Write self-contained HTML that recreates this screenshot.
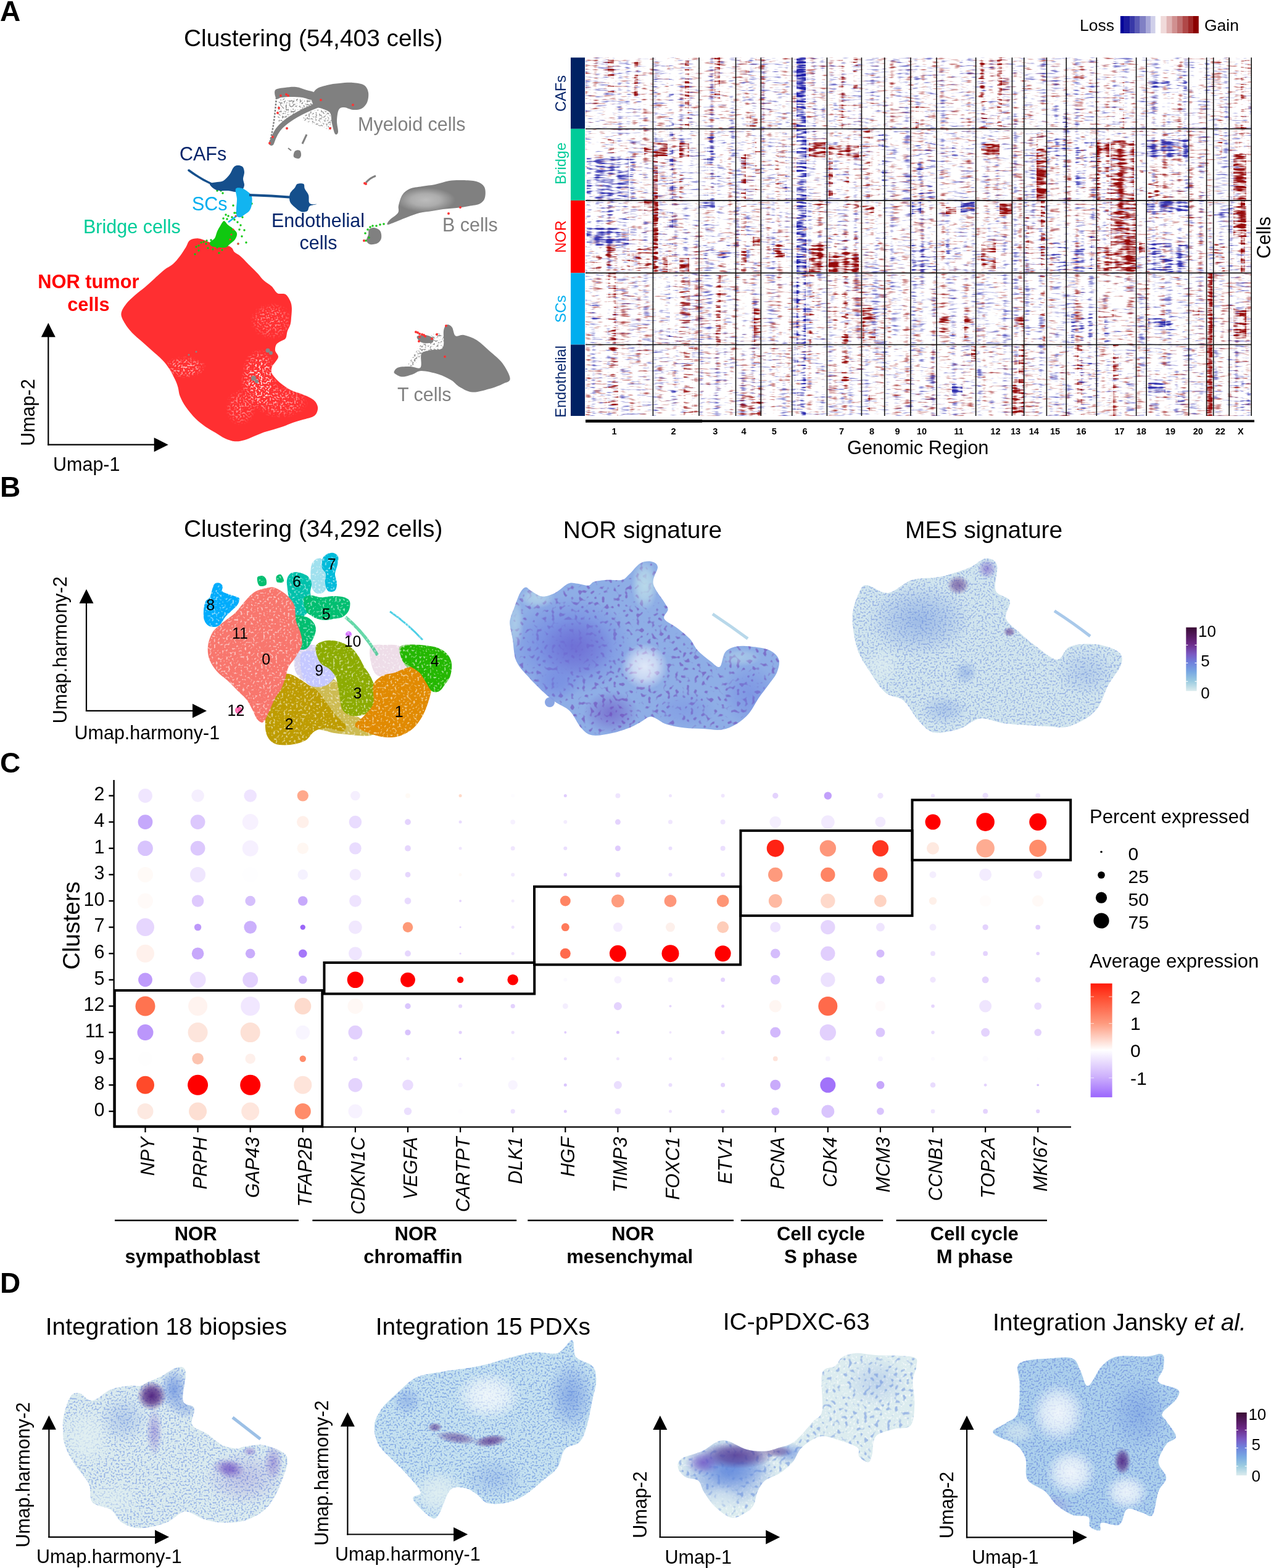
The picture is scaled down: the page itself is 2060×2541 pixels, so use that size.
<!DOCTYPE html><html><head><meta charset="utf-8"><title>Figure</title><style>html,body{margin:0;padding:0;background:#fff;}svg{display:block;}text{font-family:"Liberation Sans",Arial,Helvetica,sans-serif;}</style></head><body>
<svg width="2060" height="2541" viewBox="0 0 2060 2541">
<rect width="2060" height="2541" fill="#fff"/>
<defs>
<filter id="hrs" x="0" y="0" width="1" height="1" color-interpolation-filters="sRGB"><feTurbulence type="fractalNoise" baseFrequency="0.05 0.33" numOctaves="2" seed="3" result="n1"/><feColorMatrix in="n1" type="matrix" values="1 0 0 0 0  0 0 0 0 0  0 0 0 0 0  0 0 0 0 1" result="m1"/><feTurbulence type="fractalNoise" baseFrequency="0.12 0.005" numOctaves="1" seed="21" result="n2"/><feColorMatrix in="n2" type="matrix" values="1 0 0 0 0  0 0 0 0 0  0 0 0 0 0  0 0 0 0 1" result="m2"/><feComposite in="m1" in2="m2" operator="arithmetic" k1="0" k2="1" k3="0.6" k4="-0.300" result="s"/><feColorMatrix in="s" type="matrix" values="0 0 0 0 0  0 0 0 0 0  0 0 0 0 0  3.0 0 0 0 -1.755" result="a"/><feComposite in="SourceGraphic" in2="a" operator="in"/></filter>
<filter id="hbs" x="0" y="0" width="1" height="1" color-interpolation-filters="sRGB"><feTurbulence type="fractalNoise" baseFrequency="0.05 0.33" numOctaves="2" seed="11" result="n1"/><feColorMatrix in="n1" type="matrix" values="1 0 0 0 0  0 0 0 0 0  0 0 0 0 0  0 0 0 0 1" result="m1"/><feTurbulence type="fractalNoise" baseFrequency="0.12 0.005" numOctaves="1" seed="29" result="n2"/><feColorMatrix in="n2" type="matrix" values="1 0 0 0 0  0 0 0 0 0  0 0 0 0 0  0 0 0 0 1" result="m2"/><feComposite in="m1" in2="m2" operator="arithmetic" k1="0" k2="1" k3="0.6" k4="-0.300" result="s"/><feColorMatrix in="s" type="matrix" values="0 0 0 0 0  0 0 0 0 0  0 0 0 0 0  3.0 0 0 0 -1.755" result="a"/><feComposite in="SourceGraphic" in2="a" operator="in"/></filter>
<filter id="hrm" x="0" y="0" width="1" height="1" color-interpolation-filters="sRGB"><feTurbulence type="fractalNoise" baseFrequency="0.05 0.33" numOctaves="2" seed="3" result="n1"/><feColorMatrix in="n1" type="matrix" values="1 0 0 0 0  0 0 0 0 0  0 0 0 0 0  0 0 0 0 1" result="m1"/><feTurbulence type="fractalNoise" baseFrequency="0.12 0.005" numOctaves="1" seed="21" result="n2"/><feColorMatrix in="n2" type="matrix" values="1 0 0 0 0  0 0 0 0 0  0 0 0 0 0  0 0 0 0 1" result="m2"/><feComposite in="m1" in2="m2" operator="arithmetic" k1="0" k2="1" k3="0.6" k4="-0.300" result="s"/><feColorMatrix in="s" type="matrix" values="0 0 0 0 0  0 0 0 0 0  0 0 0 0 0  3.5 0 0 0 -1.838" result="a"/><feComposite in="SourceGraphic" in2="a" operator="in"/></filter>
<filter id="hbm" x="0" y="0" width="1" height="1" color-interpolation-filters="sRGB"><feTurbulence type="fractalNoise" baseFrequency="0.05 0.33" numOctaves="2" seed="11" result="n1"/><feColorMatrix in="n1" type="matrix" values="1 0 0 0 0  0 0 0 0 0  0 0 0 0 0  0 0 0 0 1" result="m1"/><feTurbulence type="fractalNoise" baseFrequency="0.12 0.005" numOctaves="1" seed="29" result="n2"/><feColorMatrix in="n2" type="matrix" values="1 0 0 0 0  0 0 0 0 0  0 0 0 0 0  0 0 0 0 1" result="m2"/><feComposite in="m1" in2="m2" operator="arithmetic" k1="0" k2="1" k3="0.6" k4="-0.300" result="s"/><feColorMatrix in="s" type="matrix" values="0 0 0 0 0  0 0 0 0 0  0 0 0 0 0  3.5 0 0 0 -1.838" result="a"/><feComposite in="SourceGraphic" in2="a" operator="in"/></filter>
<filter id="hrd" x="0" y="0" width="1" height="1" color-interpolation-filters="sRGB"><feTurbulence type="fractalNoise" baseFrequency="0.05 0.33" numOctaves="2" seed="3" result="n1"/><feColorMatrix in="n1" type="matrix" values="1 0 0 0 0  0 0 0 0 0  0 0 0 0 0  0 0 0 0 1" result="m1"/><feTurbulence type="fractalNoise" baseFrequency="0.12 0.005" numOctaves="1" seed="21" result="n2"/><feColorMatrix in="n2" type="matrix" values="1 0 0 0 0  0 0 0 0 0  0 0 0 0 0  0 0 0 0 1" result="m2"/><feComposite in="m1" in2="m2" operator="arithmetic" k1="0" k2="1" k3="0.6" k4="-0.300" result="s"/><feColorMatrix in="s" type="matrix" values="0 0 0 0 0  0 0 0 0 0  0 0 0 0 0  3.5 0 0 0 -1.575" result="a"/><feComposite in="SourceGraphic" in2="a" operator="in"/></filter>
<filter id="hbd" x="0" y="0" width="1" height="1" color-interpolation-filters="sRGB"><feTurbulence type="fractalNoise" baseFrequency="0.05 0.33" numOctaves="2" seed="11" result="n1"/><feColorMatrix in="n1" type="matrix" values="1 0 0 0 0  0 0 0 0 0  0 0 0 0 0  0 0 0 0 1" result="m1"/><feTurbulence type="fractalNoise" baseFrequency="0.12 0.005" numOctaves="1" seed="29" result="n2"/><feColorMatrix in="n2" type="matrix" values="1 0 0 0 0  0 0 0 0 0  0 0 0 0 0  0 0 0 0 1" result="m2"/><feComposite in="m1" in2="m2" operator="arithmetic" k1="0" k2="1" k3="0.6" k4="-0.300" result="s"/><feColorMatrix in="s" type="matrix" values="0 0 0 0 0  0 0 0 0 0  0 0 0 0 0  3.5 0 0 0 -1.575" result="a"/><feComposite in="SourceGraphic" in2="a" operator="in"/></filter>
<filter id="hrv" x="0" y="0" width="1" height="1" color-interpolation-filters="sRGB"><feTurbulence type="fractalNoise" baseFrequency="0.05 0.33" numOctaves="2" seed="3" result="n1"/><feColorMatrix in="n1" type="matrix" values="1 0 0 0 0  0 0 0 0 0  0 0 0 0 0  0 0 0 0 1" result="m1"/><feTurbulence type="fractalNoise" baseFrequency="0.12 0.005" numOctaves="1" seed="21" result="n2"/><feColorMatrix in="n2" type="matrix" values="1 0 0 0 0  0 0 0 0 0  0 0 0 0 0  0 0 0 0 1" result="m2"/><feComposite in="m1" in2="m2" operator="arithmetic" k1="0" k2="1" k3="0.6" k4="-0.300" result="s"/><feColorMatrix in="s" type="matrix" values="0 0 0 0 0  0 0 0 0 0  0 0 0 0 0  3.5 0 0 0 -1.295" result="a"/><feComposite in="SourceGraphic" in2="a" operator="in"/></filter>
<filter id="hbv" x="0" y="0" width="1" height="1" color-interpolation-filters="sRGB"><feTurbulence type="fractalNoise" baseFrequency="0.05 0.33" numOctaves="2" seed="11" result="n1"/><feColorMatrix in="n1" type="matrix" values="1 0 0 0 0  0 0 0 0 0  0 0 0 0 0  0 0 0 0 1" result="m1"/><feTurbulence type="fractalNoise" baseFrequency="0.12 0.005" numOctaves="1" seed="29" result="n2"/><feColorMatrix in="n2" type="matrix" values="1 0 0 0 0  0 0 0 0 0  0 0 0 0 0  0 0 0 0 1" result="m2"/><feComposite in="m1" in2="m2" operator="arithmetic" k1="0" k2="1" k3="0.6" k4="-0.300" result="s"/><feColorMatrix in="s" type="matrix" values="0 0 0 0 0  0 0 0 0 0  0 0 0 0 0  3.5 0 0 0 -1.295" result="a"/><feComposite in="SourceGraphic" in2="a" operator="in"/></filter>
<filter id="spk" x="0" y="0" width="1" height="1" color-interpolation-filters="sRGB"><feTurbulence type="fractalNoise" baseFrequency="0.35 0.35" numOctaves="1" seed="5" result="n"/><feColorMatrix in="n" type="matrix" values="0 0 0 0 0  0 0 0 0 0  0 0 0 0 0  6 0 0 0 -3.000" result="a"/><feComposite in="SourceGraphic" in2="a" operator="in"/></filter>
<filter id="spk2" x="0" y="0" width="1" height="1" color-interpolation-filters="sRGB"><feTurbulence type="fractalNoise" baseFrequency="0.3 0.3" numOctaves="1" seed="9" result="n"/><feColorMatrix in="n" type="matrix" values="0 0 0 0 0  0 0 0 0 0  0 0 0 0 0  6 0 0 0 -3.300" result="a"/><feComposite in="SourceGraphic" in2="a" operator="in"/></filter>
<filter id="spk3" x="0" y="0" width="1" height="1" color-interpolation-filters="sRGB"><feTurbulence type="fractalNoise" baseFrequency="0.16 0.16" numOctaves="1" seed="13" result="n"/><feColorMatrix in="n" type="matrix" values="0 0 0 0 0  0 0 0 0 0  0 0 0 0 0  7 0 0 0 -3.920" result="a"/><feComposite in="SourceGraphic" in2="a" operator="in"/></filter>
</defs>
<radialGradient id="gpur"><stop offset="0" stop-color="#4e1f7e" stop-opacity="0.95"/><stop offset="0.5" stop-color="#4e1f7e" stop-opacity="0.7"/><stop offset="1" stop-color="#4e1f7e" stop-opacity="0"/></radialGradient>
<radialGradient id="gpur2"><stop offset="0" stop-color="#6a48c0" stop-opacity="0.8"/><stop offset="0.5" stop-color="#6a48c0" stop-opacity="0.45"/><stop offset="1" stop-color="#6a48c0" stop-opacity="0"/></radialGradient>
<radialGradient id="gblu"><stop offset="0" stop-color="#5e86dc" stop-opacity="0.8"/><stop offset="0.5" stop-color="#5e86dc" stop-opacity="0.45"/><stop offset="1" stop-color="#5e86dc" stop-opacity="0"/></radialGradient>
<radialGradient id="gwht"><stop offset="0" stop-color="#ffffff" stop-opacity="0.95"/><stop offset="0.5" stop-color="#ffffff" stop-opacity="0.7"/><stop offset="1" stop-color="#ffffff" stop-opacity="0"/></radialGradient>
<radialGradient id="glig"><stop offset="0" stop-color="#e2f0f2" stop-opacity="0.95"/><stop offset="0.5" stop-color="#e2f0f2" stop-opacity="0.7"/><stop offset="1" stop-color="#e2f0f2" stop-opacity="0"/></radialGradient>
<radialGradient id="gnor"><stop offset="0" stop-color="#6c7ee0" stop-opacity="0.85"/><stop offset="0.5" stop-color="#6c7ee0" stop-opacity="0.55"/><stop offset="1" stop-color="#6c7ee0" stop-opacity="0"/></radialGradient>
<radialGradient id="gcy"><stop offset="0" stop-color="#bfe0ea" stop-opacity="0.95"/><stop offset="0.5" stop-color="#bfe0ea" stop-opacity="0.7"/><stop offset="1" stop-color="#bfe0ea" stop-opacity="0"/></radialGradient>
<text x="0" y="33.7" font-size="46" fill="#000" font-weight="bold" text-anchor="start" >A</text>
<text x="298" y="75" font-size="38.9" fill="#000" font-weight="normal" text-anchor="start" >Clustering (54,403 cells)</text>
<path d="M307.6,389.5 C311.0,387.1 316.7,386.0 321.8,386.4 C326.9,386.8 333.0,390.1 338.0,392.0 C343.0,393.9 347.0,397.0 352.0,398.0 C357.0,399.0 364.0,397.3 368.0,398.0 C372.0,398.7 374.0,400.2 376.0,402.0 C378.0,403.8 377.8,406.4 380.0,408.6 C382.2,410.8 386.3,412.4 389.5,415.0 C392.7,417.6 396.1,421.5 399.0,424.4 C401.9,427.3 403.8,429.2 407.0,432.4 C410.2,435.6 414.6,439.8 418.0,443.5 C421.4,447.2 423.9,451.2 427.6,454.6 C431.3,458.0 436.6,460.6 440.3,464.0 C444.0,467.4 446.1,473.1 449.8,475.2 C453.5,477.3 459.1,474.7 462.5,476.8 C465.9,478.9 468.8,484.3 470.5,488.0 C472.2,491.7 472.6,494.5 472.9,499.0 C473.1,503.5 472.4,510.5 472.0,515.0 C471.6,519.5 471.6,522.3 470.5,526.0 C469.4,529.7 466.9,533.3 465.7,537.0 C464.4,540.7 464.8,545.6 463.0,548.3 C461.2,551.0 457.5,551.4 455.0,553.0 C452.5,554.6 449.5,555.5 448.0,558.0 C446.5,560.5 445.5,564.7 446.0,568.0 C446.5,571.3 451.0,574.8 451.0,578.0 C451.0,581.2 447.7,584.3 446.0,587.0 C444.3,589.7 441.9,591.2 441.0,594.0 C440.1,596.8 439.1,600.5 440.3,604.0 C441.5,607.5 445.1,611.6 448.3,615.0 C451.5,618.4 455.4,621.5 459.4,624.4 C463.3,627.3 467.8,630.3 472.0,632.4 C476.2,634.5 480.0,635.1 484.8,637.0 C489.6,638.9 496.4,641.3 500.6,643.5 C504.8,645.7 507.8,647.4 510.2,650.0 C512.6,652.6 514.5,656.2 515.0,659.4 C515.5,662.6 514.6,666.4 513.3,669.0 C512.0,671.6 510.7,673.4 507.0,675.2 C503.3,677.0 496.3,678.4 491.0,680.0 C485.7,681.6 480.5,683.0 475.2,684.8 C469.9,686.6 464.7,689.1 459.4,691.0 C454.1,692.9 448.8,694.3 443.5,695.9 C438.2,697.5 432.9,698.8 427.6,700.6 C422.3,702.5 417.0,704.9 411.7,707.0 C406.4,709.1 401.1,711.9 395.9,713.3 C390.7,714.7 385.8,715.7 380.6,715.2 C375.4,714.7 370.0,712.8 364.7,710.4 C359.4,708.0 354.2,704.1 348.9,700.9 C343.6,697.7 338.3,695.1 333.0,691.4 C327.7,687.7 322.4,683.9 317.1,678.6 C311.8,673.3 305.4,665.7 301.2,659.6 C297.0,653.5 293.8,647.4 291.7,642.1 C289.6,636.8 289.8,632.3 288.5,627.8 C287.2,623.3 286.1,620.1 283.7,615.1 C281.3,610.1 277.6,602.9 274.2,597.6 C270.8,592.3 267.8,588.3 263.0,583.3 C258.2,578.3 251.2,572.4 245.6,567.4 C240.0,562.4 235.0,558.0 229.7,553.2 C224.4,548.5 218.3,543.7 213.8,538.9 C209.3,534.1 205.6,529.6 202.7,524.6 C199.8,519.6 196.1,514.0 196.4,508.7 C196.7,503.4 200.6,497.8 204.3,492.8 C208.0,487.8 213.6,483.0 218.6,478.5 C223.6,474.0 229.2,470.3 234.5,465.8 C239.8,461.3 245.1,456.3 250.4,451.5 C255.7,446.7 261.3,441.2 266.3,437.2 C271.3,433.2 276.3,431.4 280.5,427.7 C284.7,424.0 288.2,419.5 291.7,415.0 C295.1,410.5 298.5,404.9 301.2,400.7 C303.9,396.4 304.2,391.9 307.6,389.5Z" fill="#ff2f31" />
<radialGradient id="rgw"><stop offset="0" stop-color="#fff" stop-opacity="1"/><stop offset="0.6" stop-color="#fff" stop-opacity="0.7"/><stop offset="1" stop-color="#fff" stop-opacity="0"/></radialGradient>
<clipPath id="cpred"><path d="M307.6,389.5 C311.0,387.1 316.7,386.0 321.8,386.4 C326.9,386.8 333.0,390.1 338.0,392.0 C343.0,393.9 347.0,397.0 352.0,398.0 C357.0,399.0 364.0,397.3 368.0,398.0 C372.0,398.7 374.0,400.2 376.0,402.0 C378.0,403.8 377.8,406.4 380.0,408.6 C382.2,410.8 386.3,412.4 389.5,415.0 C392.7,417.6 396.1,421.5 399.0,424.4 C401.9,427.3 403.8,429.2 407.0,432.4 C410.2,435.6 414.6,439.8 418.0,443.5 C421.4,447.2 423.9,451.2 427.6,454.6 C431.3,458.0 436.6,460.6 440.3,464.0 C444.0,467.4 446.1,473.1 449.8,475.2 C453.5,477.3 459.1,474.7 462.5,476.8 C465.9,478.9 468.8,484.3 470.5,488.0 C472.2,491.7 472.6,494.5 472.9,499.0 C473.1,503.5 472.4,510.5 472.0,515.0 C471.6,519.5 471.6,522.3 470.5,526.0 C469.4,529.7 466.9,533.3 465.7,537.0 C464.4,540.7 464.8,545.6 463.0,548.3 C461.2,551.0 457.5,551.4 455.0,553.0 C452.5,554.6 449.5,555.5 448.0,558.0 C446.5,560.5 445.5,564.7 446.0,568.0 C446.5,571.3 451.0,574.8 451.0,578.0 C451.0,581.2 447.7,584.3 446.0,587.0 C444.3,589.7 441.9,591.2 441.0,594.0 C440.1,596.8 439.1,600.5 440.3,604.0 C441.5,607.5 445.1,611.6 448.3,615.0 C451.5,618.4 455.4,621.5 459.4,624.4 C463.3,627.3 467.8,630.3 472.0,632.4 C476.2,634.5 480.0,635.1 484.8,637.0 C489.6,638.9 496.4,641.3 500.6,643.5 C504.8,645.7 507.8,647.4 510.2,650.0 C512.6,652.6 514.5,656.2 515.0,659.4 C515.5,662.6 514.6,666.4 513.3,669.0 C512.0,671.6 510.7,673.4 507.0,675.2 C503.3,677.0 496.3,678.4 491.0,680.0 C485.7,681.6 480.5,683.0 475.2,684.8 C469.9,686.6 464.7,689.1 459.4,691.0 C454.1,692.9 448.8,694.3 443.5,695.9 C438.2,697.5 432.9,698.8 427.6,700.6 C422.3,702.5 417.0,704.9 411.7,707.0 C406.4,709.1 401.1,711.9 395.9,713.3 C390.7,714.7 385.8,715.7 380.6,715.2 C375.4,714.7 370.0,712.8 364.7,710.4 C359.4,708.0 354.2,704.1 348.9,700.9 C343.6,697.7 338.3,695.1 333.0,691.4 C327.7,687.7 322.4,683.9 317.1,678.6 C311.8,673.3 305.4,665.7 301.2,659.6 C297.0,653.5 293.8,647.4 291.7,642.1 C289.6,636.8 289.8,632.3 288.5,627.8 C287.2,623.3 286.1,620.1 283.7,615.1 C281.3,610.1 277.6,602.9 274.2,597.6 C270.8,592.3 267.8,588.3 263.0,583.3 C258.2,578.3 251.2,572.4 245.6,567.4 C240.0,562.4 235.0,558.0 229.7,553.2 C224.4,548.5 218.3,543.7 213.8,538.9 C209.3,534.1 205.6,529.6 202.7,524.6 C199.8,519.6 196.1,514.0 196.4,508.7 C196.7,503.4 200.6,497.8 204.3,492.8 C208.0,487.8 213.6,483.0 218.6,478.5 C223.6,474.0 229.2,470.3 234.5,465.8 C239.8,461.3 245.1,456.3 250.4,451.5 C255.7,446.7 261.3,441.2 266.3,437.2 C271.3,433.2 276.3,431.4 280.5,427.7 C284.7,424.0 288.2,419.5 291.7,415.0 C295.1,410.5 298.5,404.9 301.2,400.7 C303.9,396.4 304.2,391.9 307.6,389.5Z"/></clipPath>
<g clip-path="url(#cpred)" filter="url(#spk)"><ellipse cx="420" cy="615" rx="30" ry="50" fill="url(#rgw)"/><ellipse cx="455" cy="650" rx="45" ry="28" fill="url(#rgw)" opacity="0.6"/><ellipse cx="300" cy="595" rx="35" ry="18" fill="url(#rgw)" opacity="0.7"/><ellipse cx="440" cy="520" rx="35" ry="30" fill="url(#rgw)" opacity="0.5"/><ellipse cx="390" cy="660" rx="25" ry="30" fill="url(#rgw)" opacity="0.5"/></g>
<circle cx="434" cy="568" r="3.5" fill="#888"/>
<circle cx="439" cy="572" r="3" fill="#888"/>
<circle cx="411" cy="613" r="4" fill="#888"/>
<circle cx="416" cy="618" r="3" fill="#888"/>
<circle cx="318" cy="570" r="1.5" fill="#888"/>
<circle cx="306" cy="575" r="1.5" fill="#888"/>
<path d="M363.0,358.0 C365.0,357.7 366.7,362.0 369.0,364.0 C371.3,366.0 374.5,367.7 377.0,370.0 C379.5,372.3 383.3,375.0 384.0,378.0 C384.7,381.0 383.0,385.0 381.0,388.0 C379.0,391.0 374.5,393.8 372.0,396.0 C369.5,398.2 368.8,400.2 366.0,401.0 C363.2,401.8 358.8,401.3 355.0,401.0 C351.2,400.7 345.5,400.3 343.0,399.0 C340.5,397.7 339.2,395.2 340.0,393.0 C340.8,390.8 346.0,389.0 348.0,386.0 C350.0,383.0 350.5,378.3 352.0,375.0 C353.5,371.7 355.2,368.8 357.0,366.0 C358.8,363.2 361.0,358.3 363.0,358.0Z" fill="#10c810" />
<g fill="#10c810"><circle cx="330" cy="392" r="1.7"/><circle cx="334" cy="395" r="1.7"/><circle cx="337" cy="402" r="1.7"/><circle cx="345" cy="404" r="1.7"/><circle cx="390" cy="365" r="1.7"/><circle cx="393" cy="352" r="1.7"/><circle cx="380" cy="345" r="1.7"/><circle cx="376" cy="352" r="1.7"/><circle cx="370" cy="350" r="1.7"/><circle cx="368" cy="355" r="1.7"/><circle cx="385" cy="360" r="1.7"/><circle cx="388" cy="372" r="1.7"/><circle cx="396" cy="373" r="1.7"/><circle cx="392" cy="383" r="1.7"/><circle cx="399" cy="393" r="1.7"/><circle cx="386" cy="395" r="1.7"/><circle cx="326" cy="393" r="1.7"/><circle cx="322" cy="398" r="1.7"/><circle cx="318" cy="400" r="1.7"/><circle cx="386" cy="308" r="1.7"/><circle cx="383" cy="345" r="1.7"/><circle cx="380" cy="356" r="1.7"/><circle cx="362" cy="354" r="1.7"/><circle cx="366" cy="348" r="1.7"/><circle cx="352" cy="401" r="1.7"/><circle cx="360" cy="405" r="1.7"/><circle cx="316" cy="412" r="1.7"/><circle cx="322" cy="406" r="1.7"/><circle cx="355" cy="410" r="1.7"/><circle cx="378" cy="333" r="1.7"/><circle cx="396" cy="342" r="1.7"/><circle cx="406" cy="320" r="1.7"/><circle cx="408" cy="330" r="1.7"/><circle cx="361" cy="313" r="1.7"/><circle cx="358" cy="309" r="1.7"/><circle cx="352" cy="309" r="1.7"/><circle cx="335" cy="390" r="1.7"/><circle cx="342" cy="389" r="1.7"/></g>
<path d="M389,346 L370,360" stroke="#12b4f0" stroke-width="2.5" fill="none"/>
<g fill="#fb3535"><circle cx="375" cy="380" r="1.6"/><circle cx="378" cy="372" r="1.6"/><circle cx="373" cy="388" r="1.6"/><circle cx="382" cy="350" r="1.6"/><circle cx="386" cy="395" r="1.6"/></g>
<path d="M306,276 Q325,290 343,298" stroke="#154f8c" stroke-width="3.5" fill="none" stroke-linecap="round"/>
<path d="M340.0,298.0 C340.8,296.2 348.3,295.8 352.0,295.0 C355.7,294.2 358.7,295.0 362.0,293.0 C365.3,291.0 369.3,286.5 372.0,283.0 C374.7,279.5 376.0,274.5 378.0,272.0 C380.0,269.5 381.5,268.3 384.0,268.0 C386.5,267.7 391.0,268.2 393.0,270.0 C395.0,271.8 395.8,275.7 396.0,279.0 C396.2,282.3 394.0,286.5 394.0,290.0 C394.0,293.5 396.3,297.0 396.0,300.0 C395.7,303.0 394.3,306.2 392.0,308.0 C389.7,309.8 385.7,310.8 382.0,311.0 C378.3,311.2 374.3,309.3 370.0,309.0 C365.7,308.7 359.8,309.5 356.0,309.0 C352.2,308.5 349.7,307.8 347.0,306.0 C344.3,304.2 339.2,299.8 340.0,298.0Z" fill="#154f8c" />
<path d="M382.0,306.0 C383.3,303.2 388.7,304.2 392.0,305.0 C395.3,305.8 399.3,308.8 402.0,311.0 C404.7,313.2 407.0,314.5 408.0,318.0 C409.0,321.5 408.7,328.0 408.0,332.0 C407.3,336.0 406.0,339.3 404.0,342.0 C402.0,344.7 398.3,346.3 396.0,348.0 C393.7,349.7 392.0,351.7 390.0,352.0 C388.0,352.3 385.2,352.3 384.0,350.0 C382.8,347.7 383.0,342.7 383.0,338.0 C383.0,333.3 384.2,327.3 384.0,322.0 C383.8,316.7 380.7,308.8 382.0,306.0Z" fill="#12b4f0" />
<path d="M404,316 Q440,317 476,320" stroke="#154f8c" stroke-width="4" fill="none"/>
<path d="M470.0,314.0 C471.3,310.2 476.0,306.7 478.0,304.0 C480.0,301.3 479.7,299.0 482.0,298.0 C484.3,297.0 490.0,296.7 492.0,298.0 C494.0,299.3 492.7,303.0 494.0,306.0 C495.3,309.0 498.8,312.3 500.0,316.0 C501.2,319.7 500.0,325.5 501.0,328.0 C502.0,330.5 504.0,330.5 506.0,331.0 C508.0,331.5 513.7,330.5 513.0,331.0 C512.3,331.5 504.5,332.2 502.0,334.0 C499.5,335.8 500.3,340.5 498.0,342.0 C495.7,343.5 491.3,344.0 488.0,343.0 C484.7,342.0 481.0,338.7 478.0,336.0 C475.0,333.3 471.3,330.7 470.0,327.0 C468.7,323.3 468.7,317.8 470.0,314.0Z" fill="#154f8c" />
<text x="291" y="260" font-size="30.5" fill="#05246a" font-weight="normal" text-anchor="start" >CAFs</text>
<text x="311" y="341" font-size="30.5" fill="#00aeef" font-weight="normal" text-anchor="start" >SCs</text>
<text x="135" y="378" font-size="30.5" fill="#00cc99" font-weight="normal" text-anchor="start" >Bridge cells</text>
<text x="440" y="368" font-size="30.5" fill="#05246a" font-weight="normal" text-anchor="start" >Endothelial</text>
<text x="516" y="404" font-size="30.5" fill="#05246a" font-weight="normal" text-anchor="middle" >cells</text>
<text x="143.4" y="466.7" font-size="30.8" fill="#ff0000" font-weight="bold" text-anchor="middle" >NOR tumor</text>
<text x="143.4" y="503.8" font-size="30.8" fill="#ff0000" font-weight="bold" text-anchor="middle" >cells</text>
<path d="M452.0,164.0 C455.8,157.3 467.0,160.3 475.0,160.0 C483.0,159.7 493.8,160.7 500.0,162.0 C506.2,163.3 512.0,165.7 512.0,168.0 C512.0,170.3 505.3,173.3 500.0,176.0 C494.7,178.7 486.3,180.7 480.0,184.0 C473.7,187.3 466.7,193.3 462.0,196.0 C457.3,198.7 453.7,205.3 452.0,200.0 C450.3,194.7 448.2,170.7 452.0,164.0Z" fill="#808080" filter="url(#spk)" opacity="0.8"/>
<path d="M505.0,180.0 C510.8,177.7 519.7,176.3 525.0,178.0 C530.3,179.7 535.2,184.7 537.0,190.0 C538.8,195.3 538.8,207.5 536.0,210.0 C533.2,212.5 526.0,207.0 520.0,205.0 C514.0,203.0 505.0,200.2 500.0,198.0 C495.0,195.8 489.2,195.0 490.0,192.0 C490.8,189.0 499.2,182.3 505.0,180.0Z" fill="#808080" filter="url(#spk)" opacity="0.7"/>
<path d="M512.0,145.0 C516.2,141.3 523.7,139.7 530.0,138.0 C536.3,136.3 543.0,135.7 550.0,135.0 C557.0,134.3 565.3,133.5 572.0,134.0 C578.7,134.5 585.8,135.3 590.0,138.0 C594.2,140.7 596.2,145.3 597.0,150.0 C597.8,154.7 596.8,161.7 595.0,166.0 C593.2,170.3 589.8,174.0 586.0,176.0 C582.2,178.0 576.7,178.3 572.0,178.0 C567.3,177.7 561.8,174.0 558.0,174.0 C554.2,174.0 551.0,174.3 549.0,178.0 C547.0,181.7 546.2,190.0 546.0,196.0 C545.8,202.0 548.5,210.5 548.0,214.0 C547.5,217.5 544.7,219.3 543.0,217.0 C541.3,214.7 539.3,205.7 538.0,200.0 C536.7,194.3 537.7,187.0 535.0,183.0 C532.3,179.0 526.2,177.8 522.0,176.0 C517.8,174.2 512.8,174.7 510.0,172.0 C507.2,169.3 504.7,164.5 505.0,160.0 C505.3,155.5 507.8,148.7 512.0,145.0Z" fill="#808080" />
<path d="M446.0,146.0 C448.3,143.0 456.3,142.8 462.0,142.0 C467.7,141.2 474.2,140.3 480.0,141.0 C485.8,141.7 492.0,144.5 497.0,146.0 C502.0,147.5 507.2,148.0 510.0,150.0 C512.8,152.0 514.8,156.0 514.0,158.0 C513.2,160.0 509.0,162.0 505.0,162.0 C501.0,162.0 495.5,158.8 490.0,158.0 C484.5,157.2 477.7,157.0 472.0,157.0 C466.3,157.0 460.0,157.5 456.0,158.0 C452.0,158.5 449.7,162.0 448.0,160.0 C446.3,158.0 443.7,149.0 446.0,146.0Z" fill="#808080" />
<path d="M516,170 C495,178 470,190 455,205 C448,212 444,220 440,232" stroke="#808080" stroke-width="8" fill="none" stroke-linecap="round"/>
<path d="M448,158 C446,180 444,205 437,232" stroke="#808080" stroke-width="2.5" fill="none" stroke-dasharray="3 2"/>
<path d="M478.0,245.0 C479.7,243.3 484.3,242.8 486.0,244.0 C487.7,245.2 488.3,249.8 488.0,252.0 C487.7,254.2 486.0,256.7 484.0,257.0 C482.0,257.3 477.0,256.0 476.0,254.0 C475.0,252.0 476.3,246.7 478.0,245.0Z" fill="#808080" />
<path d="M497,218 L490,233" stroke="#808080" stroke-width="3" fill="none"/>
<path d="M467,240 L472,244" stroke="#808080" stroke-width="2" fill="none"/>
<g fill="#fb3535"><circle cx="437" cy="232" r="2"/><circle cx="442" cy="222" r="2"/><circle cx="450" cy="183" r="2"/><circle cx="452" cy="175" r="2"/><circle cx="455" cy="155" r="2"/><circle cx="467" cy="155" r="2"/><circle cx="464" cy="153" r="2"/><circle cx="520" cy="162" r="2"/><circle cx="572" cy="170" r="2"/><circle cx="535" cy="208" r="2"/><circle cx="465" cy="208" r="2"/></g>
<text x="580" y="211.7" font-size="30.5" fill="#808080" font-weight="normal" text-anchor="start" >Myeloid cells</text>
<path d="M646.0,333.0 C647.2,328.2 649.0,320.5 652.0,316.0 C655.0,311.5 658.7,308.3 664.0,306.0 C669.3,303.7 677.2,303.2 684.0,302.0 C690.8,300.8 697.7,300.5 705.0,299.0 C712.3,297.5 720.5,294.2 728.0,293.0 C735.5,291.8 742.7,291.8 750.0,292.0 C757.3,292.2 766.2,292.2 772.0,294.0 C777.8,295.8 782.7,298.7 785.0,303.0 C787.3,307.3 787.2,315.5 786.0,320.0 C784.8,324.5 782.3,327.7 778.0,330.0 C773.7,332.3 766.3,332.8 760.0,334.0 C753.7,335.2 747.0,336.2 740.0,337.0 C733.0,337.8 724.7,338.2 718.0,339.0 C711.3,339.8 706.3,341.0 700.0,342.0 C693.7,343.0 686.7,343.3 680.0,345.0 C673.3,346.7 666.7,349.5 660.0,352.0 C653.3,354.5 645.3,358.0 640.0,360.0 C634.7,362.0 629.5,364.5 628.0,364.0 C626.5,363.5 628.2,360.2 631.0,357.0 C633.8,353.8 642.5,349.0 645.0,345.0 C647.5,341.0 644.8,337.8 646.0,333.0Z" fill="#808080" />
<ellipse cx="690" cy="324" rx="48" ry="20" fill="url(#gwht)" opacity="0.5"/>
<path d="M598.0,372.0 C599.5,370.2 603.0,368.7 606.0,369.0 C609.0,369.3 614.0,371.2 616.0,374.0 C618.0,376.8 618.7,382.7 618.0,386.0 C617.3,389.3 615.0,392.3 612.0,394.0 C609.0,395.7 603.0,396.7 600.0,396.0 C597.0,395.3 594.5,392.7 594.0,390.0 C593.5,387.3 596.3,383.0 597.0,380.0 C597.7,377.0 596.5,373.8 598.0,372.0Z" fill="#808080" />
<path d="M593,296 Q600,288 609,285" stroke="#808080" stroke-width="3" fill="none"/>
<g fill="#19c519"><circle cx="596" cy="372" r="1.8"/><circle cx="600" cy="368" r="1.8"/><circle cx="604" cy="366" r="1.8"/><circle cx="610" cy="366" r="1.8"/><circle cx="616" cy="364" r="1.8"/><circle cx="622" cy="363" r="1.8"/><circle cx="592" cy="378" r="1.8"/><circle cx="598" cy="385" r="1.8"/><circle cx="593" cy="390" r="1.8"/></g>
<g fill="#fb3535"><circle cx="591" cy="297" r="2"/><circle cx="593" cy="298" r="2"/><circle cx="727" cy="346" r="2"/><circle cx="746" cy="336" r="2"/><circle cx="590" cy="390" r="2"/></g>
<text x="717" y="375.3" font-size="30.5" fill="#808080" font-weight="normal" text-anchor="start" >B cells</text>
<path d="M638.7,602.3 C639.4,600.4 641.2,596.8 645.6,595.4 C650.0,594.0 659.0,594.0 665.0,594.0 C671.0,594.0 678.6,598.9 681.6,595.4 C684.6,591.9 680.5,577.9 683.0,573.3 C685.5,568.7 691.0,569.3 696.8,567.7 C702.5,566.1 713.8,568.9 717.5,563.6 C721.2,558.3 717.9,542.2 719.0,536.0 C720.1,529.8 722.1,527.2 724.4,526.3 C726.7,525.4 730.4,527.4 732.7,530.4 C735.0,533.4 735.1,542.1 738.3,544.2 C741.5,546.3 746.2,541.7 752.0,542.9 C757.8,544.1 765.9,546.9 772.8,551.2 C779.7,555.6 786.7,562.8 793.6,569.0 C800.5,575.2 808.8,581.1 814.3,588.5 C819.8,595.9 826.5,607.9 826.7,613.4 C826.9,618.9 821.2,618.9 815.7,621.7 C810.2,624.5 801.9,627.7 793.6,630.0 C785.3,632.3 774.1,636.0 766.0,635.5 C757.9,635.0 751.0,630.5 745.2,627.2 C739.4,624.0 737.1,619.5 731.3,616.0 C725.5,612.5 718.6,609.0 710.6,606.5 C702.6,604.0 689.9,601.0 683.0,601.0 C676.1,601.0 674.1,604.9 669.0,606.5 C663.9,608.1 657.1,610.6 652.5,610.6 C647.9,610.6 643.8,607.9 641.5,606.5 C639.2,605.1 638.0,604.1 638.7,602.3Z" fill="#808080" />
<path d="M676.0,545.0 C677.7,543.3 685.7,542.5 690.0,543.0 C694.3,543.5 700.3,546.0 702.0,548.0 C703.7,550.0 702.3,553.7 700.0,555.0 C697.7,556.3 691.3,556.3 688.0,556.0 C684.7,555.7 682.0,554.8 680.0,553.0 C678.0,551.2 674.3,546.7 676.0,545.0Z" fill="#808080" />
<path d="M684.0,556.0 C688.5,550.3 691.0,548.7 695.0,546.0 C699.0,543.3 704.0,540.2 708.0,540.0 C712.0,539.8 717.0,540.8 719.0,545.0 C721.0,549.2 722.3,560.8 720.0,565.0 C717.7,569.2 710.3,568.5 705.0,570.0 C699.7,571.5 693.5,570.7 688.0,574.0 C682.5,577.3 676.7,586.5 672.0,590.0 C667.3,593.5 660.7,596.7 660.0,595.0 C659.3,593.3 664.0,586.5 668.0,580.0 C672.0,573.5 679.5,561.7 684.0,556.0Z" fill="#808080" filter="url(#spk)" opacity="0.8"/>
<g fill="#fb3535"><circle cx="674" cy="538" r="2"/><circle cx="677" cy="539" r="2"/><circle cx="680" cy="541" r="2"/><circle cx="684" cy="542" r="2"/><circle cx="687" cy="543" r="2"/><circle cx="689" cy="545" r="2"/><circle cx="680" cy="546" r="2"/><circle cx="679" cy="553" r="2"/><circle cx="708" cy="542" r="2"/><circle cx="700" cy="549" r="2"/><circle cx="721" cy="578" r="2"/><circle cx="723" cy="528" r="2"/></g>
<text x="644" y="650.4" font-size="30.5" fill="#808080" font-weight="normal" text-anchor="start" >T cells</text>
<line x1="78.3" y1="721.8000000000001" x2="78.3" y2="545.3" stroke="#000" stroke-width="2.2" />
<polygon points="66.8,546.3 89.8,546.3 78.3,523.3" fill="#000"/>
<line x1="77.2" y1="720.7" x2="250.7" y2="720.7" stroke="#000" stroke-width="2.2" />
<polygon points="249.7,709.2 249.7,732.2 272.7,720.7" fill="#000"/>
<text transform="translate(55.5,668.4) rotate(-90)" font-size="30.5" fill="#000" font-weight="normal" text-anchor="middle" >Umap-2</text>
<text x="86" y="763" font-size="30.5" fill="#000" font-weight="normal" text-anchor="start" >Umap-1</text>
<rect x="949.0" y="93.3" width="1079.5" height="580.7" fill="#960a0a" filter="url(#hrs)" opacity="0.8"/>
<rect x="949.0" y="93.3" width="1079.5" height="580.7" fill="#2222aa" filter="url(#hbs)" opacity="0.72"/>
<rect x="985" y="93" width="10" height="57" fill="#960a0a" filter="url(#hrm)"/>
<rect x="1028" y="100" width="6" height="60" fill="#960a0a" filter="url(#hrm)"/>
<rect x="1084" y="93.3" width="8" height="115.50000000000001" fill="#2222aa" filter="url(#hbm)" opacity="0.85"/>
<rect x="1110" y="93.3" width="7" height="115.50000000000001" fill="#960a0a" filter="url(#hrd)"/>
<rect x="1158" y="93" width="9" height="67" fill="#960a0a" filter="url(#hrd)"/>
<rect x="1213" y="93" width="13" height="32" fill="#960a0a" filter="url(#hrm)"/>
<rect x="1215" y="185" width="13" height="24" fill="#960a0a" filter="url(#hrd)"/>
<rect x="1291" y="93.3" width="15" height="115.50000000000001" fill="#2222aa" filter="url(#hbv)"/>
<rect x="1364" y="93.3" width="8" height="115.50000000000001" fill="#960a0a" filter="url(#hrm)"/>
<rect x="1383" y="93" width="7" height="57" fill="#960a0a" filter="url(#hrm)"/>
<rect x="1586" y="93.3" width="14" height="115.50000000000001" fill="#960a0a" filter="url(#hrm)"/>
<rect x="1616" y="93.3" width="8" height="115.50000000000001" fill="#960a0a" filter="url(#hrm)"/>
<rect x="1657" y="93.3" width="6" height="115.50000000000001" fill="#960a0a" filter="url(#hrm)"/>
<rect x="1814" y="93.3" width="8" height="115.50000000000001" fill="#960a0a" filter="url(#hrm)"/>
<rect x="1484" y="170" width="5" height="39" fill="#960a0a" filter="url(#hrd)"/>
<rect x="1861" y="128" width="63" height="16" fill="#2222aa" filter="url(#hbm)" opacity="0.85"/>
<rect x="2011" y="93.3" width="9" height="115.50000000000001" fill="#960a0a" filter="url(#hrm)"/>
<rect x="1722" y="93.3" width="8" height="115.50000000000001" fill="#2222aa" filter="url(#hbm)" opacity="0.85"/>
<rect x="951" y="254" width="68" height="70" fill="#2222aa" filter="url(#hbv)" opacity="0.85"/>
<rect x="985" y="225" width="10" height="29" fill="#960a0a" filter="url(#hrm)"/>
<rect x="1044" y="238" width="14" height="18" fill="#960a0a" filter="url(#hrd)"/>
<rect x="1020" y="254" width="20" height="70" fill="#2222aa" filter="url(#hbs)" opacity="0.85"/>
<rect x="1059" y="235" width="7" height="90" fill="#960a0a" filter="url(#hrv)"/>
<rect x="1059" y="325" width="7" height="117" fill="#960a0a" filter="url(#hrv)"/>
<rect x="1059" y="231" width="23" height="22" fill="#960a0a" filter="url(#hrv)"/>
<rect x="1101" y="231" width="16" height="24" fill="#960a0a" filter="url(#hrv)"/>
<rect x="1101" y="275" width="16" height="50" fill="#960a0a" filter="url(#hrm)"/>
<rect x="1085" y="208.8" width="6" height="116.09999999999997" fill="#2222aa" filter="url(#hbm)" opacity="0.85"/>
<rect x="1146" y="219" width="14" height="106" fill="#2222aa" filter="url(#hbm)" opacity="0.85"/>
<rect x="1201" y="250" width="8" height="75" fill="#960a0a" filter="url(#hrv)"/>
<rect x="1224" y="230" width="8" height="95" fill="#960a0a" filter="url(#hrm)"/>
<rect x="1268" y="208.8" width="7" height="116.09999999999997" fill="#2222aa" filter="url(#hbm)" opacity="0.85"/>
<rect x="1250" y="240" width="12" height="60" fill="#960a0a" filter="url(#hrs)"/>
<rect x="1291" y="208.8" width="16" height="116.09999999999997" fill="#2222aa" filter="url(#hbv)"/>
<rect x="1311" y="231" width="27" height="24" fill="#960a0a" filter="url(#hrv)"/>
<rect x="1343" y="235" width="49" height="20" fill="#960a0a" filter="url(#hrv)"/>
<rect x="1343" y="255" width="7" height="70" fill="#960a0a" filter="url(#hrv)"/>
<rect x="1359" y="278" width="17" height="30" fill="#960a0a" filter="url(#hrm)"/>
<rect x="1399" y="208.8" width="11" height="116.09999999999997" fill="#960a0a" filter="url(#hrm)"/>
<rect x="1424" y="208.8" width="8" height="116.09999999999997" fill="#2222aa" filter="url(#hbm)" opacity="0.85"/>
<rect x="1480" y="230" width="36" height="94" fill="#2222aa" filter="url(#hbm)" opacity="0.85"/>
<rect x="1543" y="227" width="10" height="28" fill="#2222aa" filter="url(#hbm)" opacity="0.85"/>
<rect x="1590" y="233" width="30" height="18" fill="#960a0a" filter="url(#hrv)"/>
<rect x="1680" y="213" width="16" height="34" fill="#960a0a" filter="url(#hrm)"/>
<rect x="1680" y="247" width="16" height="78" fill="#960a0a" filter="url(#hrv)"/>
<rect x="1697" y="223" width="30" height="44" fill="#2222aa" filter="url(#hbm)" opacity="0.85"/>
<rect x="1735" y="230" width="35" height="70" fill="#2222aa" filter="url(#hbs)" opacity="0.85"/>
<rect x="1777" y="230" width="21" height="25" fill="#960a0a" filter="url(#hrv)"/>
<rect x="1777" y="255" width="23" height="70" fill="#960a0a" filter="url(#hrm)"/>
<rect x="1800" y="228" width="38" height="97" fill="#960a0a" filter="url(#hrv)"/>
<rect x="1847" y="208.8" width="6" height="116.09999999999997" fill="#960a0a" filter="url(#hrm)"/>
<rect x="1858" y="226" width="69" height="29" fill="#2222aa" filter="url(#hbv)" opacity="0.85"/>
<rect x="1861" y="274" width="21" height="50" fill="#960a0a" filter="url(#hrm)"/>
<rect x="1968" y="230" width="13" height="25" fill="#960a0a" filter="url(#hrm)"/>
<rect x="1999" y="250" width="21" height="75" fill="#960a0a" filter="url(#hrv)"/>
<rect x="2008" y="209" width="10" height="41" fill="#960a0a" filter="url(#hrm)"/>
<rect x="951" y="325" width="68" height="37" fill="#2222aa" filter="url(#hbm)" opacity="0.85"/>
<rect x="951" y="369" width="68" height="29" fill="#2222aa" filter="url(#hbv)" opacity="0.85"/>
<rect x="966" y="399" width="55" height="39" fill="#960a0a" filter="url(#hrm)"/>
<rect x="1044" y="325" width="14" height="21" fill="#960a0a" filter="url(#hrd)"/>
<rect x="1030" y="400" width="28" height="42" fill="#960a0a" filter="url(#hrm)"/>
<rect x="1059" y="415" width="23" height="26" fill="#960a0a" filter="url(#hrv)"/>
<rect x="1101" y="418" width="16" height="22" fill="#960a0a" filter="url(#hrv)"/>
<rect x="1059" y="325" width="8" height="117" fill="#960a0a" filter="url(#hrd)"/>
<rect x="1085" y="324.9" width="6" height="117.5" fill="#2222aa" filter="url(#hbm)" opacity="0.85"/>
<rect x="1133" y="327" width="26" height="10" fill="#2222aa" filter="url(#hbv)" opacity="0.85"/>
<rect x="1133" y="397" width="58" height="22" fill="#2222aa" filter="url(#hbm)" opacity="0.85"/>
<rect x="1201" y="324.9" width="9" height="117.5" fill="#960a0a" filter="url(#hrd)"/>
<rect x="1220" y="383" width="12" height="15" fill="#960a0a" filter="url(#hrv)"/>
<rect x="1253" y="396" width="19" height="21" fill="#960a0a" filter="url(#hrv)"/>
<rect x="1291" y="324.9" width="16" height="117.5" fill="#2222aa" filter="url(#hbv)"/>
<rect x="1311" y="397" width="30" height="44" fill="#960a0a" filter="url(#hrv)"/>
<rect x="1311" y="325" width="30" height="21" fill="#960a0a" filter="url(#hrm)"/>
<rect x="1343" y="409" width="49" height="32" fill="#960a0a" filter="url(#hrv)"/>
<rect x="1366" y="327" width="26" height="11" fill="#960a0a" filter="url(#hrd)"/>
<rect x="1343" y="380" width="49" height="29" fill="#960a0a" filter="url(#hrs)"/>
<rect x="1398" y="331" width="19" height="17" fill="#960a0a" filter="url(#hrd)"/>
<rect x="1478" y="327" width="15" height="20" fill="#2222aa" filter="url(#hbv)" opacity="0.85"/>
<rect x="1478" y="394" width="39" height="47" fill="#2222aa" filter="url(#hbm)" opacity="0.85"/>
<rect x="1533" y="334" width="17" height="13" fill="#960a0a" filter="url(#hrv)"/>
<rect x="1557" y="327" width="23" height="17" fill="#2222aa" filter="url(#hbv)" opacity="0.85"/>
<rect x="1533" y="394" width="24" height="20" fill="#2222aa" filter="url(#hbm)" opacity="0.85"/>
<rect x="1590" y="394" width="24" height="47" fill="#960a0a" filter="url(#hrd)"/>
<rect x="1620" y="330" width="20" height="17" fill="#960a0a" filter="url(#hrv)"/>
<rect x="1687" y="324.9" width="7" height="117.5" fill="#960a0a" filter="url(#hrd)"/>
<rect x="1662" y="324.9" width="6" height="117.5" fill="#960a0a" filter="url(#hrm)"/>
<rect x="1697" y="390" width="30" height="51" fill="#2222aa" filter="url(#hbm)" opacity="0.85"/>
<rect x="1735" y="380" width="35" height="61" fill="#2222aa" filter="url(#hbm)" opacity="0.85"/>
<rect x="1800" y="325" width="42" height="116" fill="#960a0a" filter="url(#hrv)"/>
<rect x="1777" y="401" width="24" height="40" fill="#960a0a" filter="url(#hrd)"/>
<rect x="1777" y="340" width="23" height="60" fill="#960a0a" filter="url(#hrs)"/>
<rect x="1846" y="394" width="10" height="20" fill="#960a0a" filter="url(#hrv)"/>
<rect x="1858" y="325" width="69" height="19" fill="#2222aa" filter="url(#hbv)" opacity="0.85"/>
<rect x="1858" y="394" width="69" height="47" fill="#2222aa" filter="url(#hbd)" opacity="0.85"/>
<rect x="1968" y="344" width="25" height="7" fill="#2222aa" filter="url(#hbv)" opacity="0.85"/>
<rect x="1968" y="395" width="17" height="46" fill="#960a0a" filter="url(#hrm)"/>
<rect x="1999" y="334" width="21" height="50" fill="#960a0a" filter="url(#hrv)"/>
<rect x="2011" y="324.9" width="7" height="117.5" fill="#960a0a" filter="url(#hrv)"/>
<rect x="986" y="442.4" width="12" height="116.10000000000002" fill="#960a0a" filter="url(#hrm)"/>
<rect x="960" y="480" width="15" height="40" fill="#2222aa" filter="url(#hbs)" opacity="0.85"/>
<rect x="1101" y="442.4" width="18" height="116.10000000000002" fill="#960a0a" filter="url(#hrs)"/>
<rect x="1084" y="442.4" width="8" height="116.10000000000002" fill="#2222aa" filter="url(#hbm)" opacity="0.85"/>
<rect x="1160" y="442.4" width="8" height="116.10000000000002" fill="#960a0a" filter="url(#hrm)"/>
<rect x="1222" y="500" width="11" height="58" fill="#960a0a" filter="url(#hrd)"/>
<rect x="1291" y="442.4" width="15" height="116.10000000000002" fill="#2222aa" filter="url(#hbd)"/>
<rect x="1312" y="442.4" width="8" height="116.10000000000002" fill="#960a0a" filter="url(#hrm)"/>
<rect x="1364" y="442.4" width="11" height="116.10000000000002" fill="#960a0a" filter="url(#hrm)"/>
<rect x="1398" y="499" width="21" height="56" fill="#960a0a" filter="url(#hrd)"/>
<rect x="1563" y="513" width="15" height="35" fill="#960a0a" filter="url(#hrd)"/>
<rect x="1522" y="513" width="23" height="32" fill="#960a0a" filter="url(#hrm)"/>
<rect x="1643" y="509" width="16" height="28" fill="#960a0a" filter="url(#hrd)"/>
<rect x="1686" y="442.4" width="8" height="116.10000000000002" fill="#960a0a" filter="url(#hrm)"/>
<rect x="1736" y="509" width="35" height="46" fill="#2222aa" filter="url(#hbm)" opacity="0.85"/>
<rect x="1780" y="500" width="25" height="15" fill="#960a0a" filter="url(#hrm)"/>
<rect x="1790" y="515" width="30" height="40" fill="#2222aa" filter="url(#hbm)" opacity="0.85"/>
<rect x="1861" y="516" width="28" height="14" fill="#2222aa" filter="url(#hbv)" opacity="0.85"/>
<rect x="1890" y="500" width="30" height="40" fill="#2222aa" filter="url(#hbs)" opacity="0.85"/>
<rect x="1933" y="500" width="11" height="15" fill="#960a0a" filter="url(#hrm)"/>
<rect x="1957" y="442.4" width="8" height="116.10000000000002" fill="#960a0a" filter="url(#hrv)"/>
<rect x="1999" y="499" width="21" height="49" fill="#960a0a" filter="url(#hrd)"/>
<rect x="2009" y="505" width="11" height="35" fill="#960a0a" filter="url(#hrv)"/>
<rect x="986" y="560" width="16" height="65" fill="#960a0a" filter="url(#hrm)"/>
<rect x="986" y="625" width="16" height="49" fill="#960a0a" filter="url(#hrd)"/>
<rect x="1108" y="558.5" width="15" height="115.5" fill="#960a0a" filter="url(#hrm)"/>
<rect x="1080" y="600" width="15" height="40" fill="#2222aa" filter="url(#hbs)" opacity="0.85"/>
<rect x="1194" y="640" width="39" height="34" fill="#960a0a" filter="url(#hrs)"/>
<rect x="1222" y="560" width="10" height="114" fill="#960a0a" filter="url(#hrs)"/>
<rect x="1292" y="558.5" width="14" height="115.5" fill="#2222aa" filter="url(#hbm)"/>
<rect x="1364" y="570" width="12" height="70" fill="#960a0a" filter="url(#hrm)"/>
<rect x="1398" y="640" width="12" height="34" fill="#960a0a" filter="url(#hrm)"/>
<rect x="1543" y="623" width="17" height="15" fill="#2222aa" filter="url(#hbv)" opacity="0.85"/>
<rect x="1574" y="561" width="8" height="25" fill="#960a0a" filter="url(#hrv)"/>
<rect x="1651" y="558.5" width="9" height="115.5" fill="#960a0a" filter="url(#hrv)"/>
<rect x="1641" y="623" width="19" height="49" fill="#960a0a" filter="url(#hrd)"/>
<rect x="1746" y="558.5" width="8" height="115.5" fill="#960a0a" filter="url(#hrm)"/>
<rect x="1740" y="580" width="30" height="90" fill="#2222aa" filter="url(#hbs)" opacity="0.85"/>
<rect x="1804" y="558.5" width="9" height="115.5" fill="#960a0a" filter="url(#hrd)"/>
<rect x="1861" y="620" width="28" height="18" fill="#2222aa" filter="url(#hbv)" opacity="0.85"/>
<rect x="1909" y="630" width="18" height="22" fill="#2222aa" filter="url(#hbm)" opacity="0.85"/>
<rect x="1956" y="558.5" width="9" height="115.5" fill="#960a0a" filter="url(#hrv)"/>
<rect x="2010" y="620" width="18" height="40" fill="#2222aa" filter="url(#hbs)" opacity="0.85"/>
<rect x="925.0" y="93.3" width="23.0" height="115.5" fill="#002163" />
<rect x="925.0" y="208.8" width="23.0" height="116.1" fill="#00cc99" />
<rect x="925.0" y="324.9" width="23.0" height="117.5" fill="#ff0000" />
<rect x="925.0" y="442.4" width="23.0" height="116.1" fill="#00aeef" />
<rect x="925.0" y="558.5" width="23.0" height="115.5" fill="#002163" />
<line x1="949" y1="208.8" x2="2028.5" y2="208.8" stroke="#111" stroke-width="1.6" />
<line x1="949" y1="324.9" x2="2028.5" y2="324.9" stroke="#111" stroke-width="1.6" />
<line x1="949" y1="442.4" x2="2028.5" y2="442.4" stroke="#111" stroke-width="1.6" />
<line x1="949" y1="558.5" x2="2028.5" y2="558.5" stroke="#111" stroke-width="1.6" />
<line x1="1058.4" y1="93.3" x2="1058.4" y2="674" stroke="#111" stroke-width="1.6" />
<line x1="1133" y1="93.3" x2="1133" y2="674" stroke="#111" stroke-width="1.6" />
<line x1="1192.5" y1="93.3" x2="1192.5" y2="674" stroke="#111" stroke-width="1.6" />
<line x1="1233.3" y1="93.3" x2="1233.3" y2="674" stroke="#111" stroke-width="1.6" />
<line x1="1283.7" y1="93.3" x2="1283.7" y2="674" stroke="#111" stroke-width="1.6" />
<line x1="1340.4" y1="93.3" x2="1340.4" y2="674" stroke="#111" stroke-width="1.6" />
<line x1="1396.4" y1="93.3" x2="1396.4" y2="674" stroke="#111" stroke-width="1.6" />
<line x1="1433.7" y1="93.3" x2="1433.7" y2="674" stroke="#111" stroke-width="1.6" />
<line x1="1475.9" y1="93.3" x2="1475.9" y2="674" stroke="#111" stroke-width="1.6" />
<line x1="1518" y1="93.3" x2="1518" y2="674" stroke="#111" stroke-width="1.6" />
<line x1="1581.6" y1="93.3" x2="1581.6" y2="674" stroke="#111" stroke-width="1.6" />
<line x1="1640.4" y1="93.3" x2="1640.4" y2="674" stroke="#111" stroke-width="1.6" />
<line x1="1659.7" y1="93.3" x2="1659.7" y2="674" stroke="#111" stroke-width="1.6" />
<line x1="1696.4" y1="93.3" x2="1696.4" y2="674" stroke="#111" stroke-width="1.6" />
<line x1="1728.2" y1="93.3" x2="1728.2" y2="674" stroke="#111" stroke-width="1.6" />
<line x1="1777.3" y1="93.3" x2="1777.3" y2="674" stroke="#111" stroke-width="1.6" />
<line x1="1841.6" y1="93.3" x2="1841.6" y2="674" stroke="#111" stroke-width="1.6" />
<line x1="1858.1" y1="93.3" x2="1858.1" y2="674" stroke="#111" stroke-width="1.6" />
<line x1="1926.6" y1="93.3" x2="1926.6" y2="674" stroke="#111" stroke-width="1.6" />
<line x1="1955.6" y1="93.3" x2="1955.6" y2="674" stroke="#111" stroke-width="1.6" />
<line x1="1966.7" y1="93.3" x2="1966.7" y2="674" stroke="#111" stroke-width="1.6" />
<line x1="1992.2" y1="93.3" x2="1992.2" y2="674" stroke="#111" stroke-width="1.6" />
<line x1="2028.2" y1="93.3" x2="2028.2" y2="674" stroke="#111" stroke-width="1.6" />
<polygon points="949,680 1138,680 1138,680.6 2033,680.6 2033,684.2 1138,684.2 1138,684.8 949,684.8" fill="#000"/>
<text x="995.5" y="703.8" font-size="14.5" fill="#000" font-weight="bold" text-anchor="middle" >1</text>
<text x="1091.6" y="703.8" font-size="14.5" fill="#000" font-weight="bold" text-anchor="middle" >2</text>
<text x="1159.3" y="703.8" font-size="14.5" fill="#000" font-weight="bold" text-anchor="middle" >3</text>
<text x="1205.6" y="703.8" font-size="14.5" fill="#000" font-weight="bold" text-anchor="middle" >4</text>
<text x="1254.7" y="703.8" font-size="14.5" fill="#000" font-weight="bold" text-anchor="middle" >5</text>
<text x="1304.5" y="703.8" font-size="14.5" fill="#000" font-weight="bold" text-anchor="middle" >6</text>
<text x="1364" y="703.8" font-size="14.5" fill="#000" font-weight="bold" text-anchor="middle" >7</text>
<text x="1413" y="703.8" font-size="14.5" fill="#000" font-weight="bold" text-anchor="middle" >8</text>
<text x="1454.5" y="703.8" font-size="14.5" fill="#000" font-weight="bold" text-anchor="middle" >9</text>
<text x="1493.9" y="703.8" font-size="14.5" fill="#000" font-weight="bold" text-anchor="middle" >10</text>
<text x="1554" y="703.8" font-size="14.5" fill="#000" font-weight="bold" text-anchor="middle" >11</text>
<text x="1613.4" y="703.8" font-size="14.5" fill="#000" font-weight="bold" text-anchor="middle" >12</text>
<text x="1646" y="703.8" font-size="14.5" fill="#000" font-weight="bold" text-anchor="middle" >13</text>
<text x="1675.7" y="703.8" font-size="14.5" fill="#000" font-weight="bold" text-anchor="middle" >14</text>
<text x="1710" y="703.8" font-size="14.5" fill="#000" font-weight="bold" text-anchor="middle" >15</text>
<text x="1752.4" y="703.8" font-size="14.5" fill="#000" font-weight="bold" text-anchor="middle" >16</text>
<text x="1814.6" y="703.8" font-size="14.5" fill="#000" font-weight="bold" text-anchor="middle" >17</text>
<text x="1849.8" y="703.8" font-size="14.5" fill="#000" font-weight="bold" text-anchor="middle" >18</text>
<text x="1896.9" y="703.8" font-size="14.5" fill="#000" font-weight="bold" text-anchor="middle" >19</text>
<text x="1941.8" y="703.8" font-size="14.5" fill="#000" font-weight="bold" text-anchor="middle" >20</text>
<text x="1977.7" y="703.8" font-size="14.5" fill="#000" font-weight="bold" text-anchor="middle" >22</text>
<text x="2010.9" y="703.8" font-size="14.5" fill="#000" font-weight="bold" text-anchor="middle" >X</text>
<text x="1373" y="736" font-size="30.8" fill="#000" font-weight="normal" text-anchor="start" >Genomic Region</text>
<text transform="translate(2058.5,385) rotate(-90)" font-size="30.5" fill="#000" font-weight="normal" text-anchor="middle" >Cells</text>
<text transform="translate(916.5,151.5) rotate(-90)" font-size="23.6" fill="#05246a" font-weight="normal" text-anchor="middle" >CAFs</text>
<text transform="translate(916.5,265) rotate(-90)" font-size="23.6" fill="#00cc99" font-weight="normal" text-anchor="middle" >Bridge</text>
<text transform="translate(916.5,383.5) rotate(-90)" font-size="23.6" fill="#ff0000" font-weight="normal" text-anchor="middle" >NOR</text>
<text transform="translate(916.5,500.8) rotate(-90)" font-size="23.6" fill="#00aeef" font-weight="normal" text-anchor="middle" >SCs</text>
<text transform="translate(916.5,618.4) rotate(-90)" font-size="23.6" fill="#05246a" font-weight="normal" text-anchor="middle" >Endothelial</text>
<text x="1750" y="50.1" font-size="26.5" fill="#000" font-weight="normal" text-anchor="start" >Loss</text>
<text x="1952" y="50.1" font-size="26.5" fill="#000" font-weight="normal" text-anchor="start" >Gain</text>
<rect x="1815.9" y="26.0" width="6.0" height="28.0" fill="#00009a" />
<rect x="1821.6" y="26.0" width="9.8" height="28.0" fill="#1a1a9e" />
<rect x="1831.1" y="26.0" width="8.1" height="28.0" fill="#3838a8" />
<rect x="1838.9" y="26.0" width="8.9" height="28.0" fill="#5a5ab5" />
<rect x="1847.5" y="26.0" width="9.8" height="28.0" fill="#8080c4" />
<rect x="1857.0" y="26.0" width="8.1" height="28.0" fill="#a8a8d8" />
<rect x="1864.8" y="26.0" width="8.1" height="28.0" fill="#d0d0ea" />
<rect x="1872.6" y="26.0" width="8.9" height="28.0" fill="#ffffff" />
<rect x="1881.2" y="26.0" width="9.8" height="28.0" fill="#f0dada" />
<rect x="1890.7" y="26.0" width="9.0" height="28.0" fill="#e0b4b4" />
<rect x="1899.4" y="26.0" width="8.9" height="28.0" fill="#d09090" />
<rect x="1908.0" y="26.0" width="8.9" height="28.0" fill="#c07070" />
<rect x="1916.6" y="26.0" width="9.0" height="28.0" fill="#b04848" />
<rect x="1925.3" y="26.0" width="8.9" height="28.0" fill="#a02828" />
<rect x="1933.9" y="26.0" width="8.9" height="28.0" fill="#8b0000" />
<text x="0" y="805" font-size="46" fill="#000" font-weight="bold" text-anchor="start" >B</text>
<text x="298" y="869.5" font-size="38.9" fill="#000" font-weight="normal" text-anchor="start" >Clustering (34,292 cells)</text>
<text x="912.8" y="871.5" font-size="38.9" fill="#000" font-weight="normal" text-anchor="start" >NOR signature</text>
<text x="1467.1" y="871.8" font-size="38.9" fill="#000" font-weight="normal" text-anchor="start" >MES signature</text>
<path d="M505.0,1100.0 C509.2,1087.5 522.5,1093.3 530.0,1095.0 C537.5,1096.7 545.0,1102.5 550.0,1110.0 C555.0,1117.5 554.2,1130.8 560.0,1140.0 C565.8,1149.2 576.3,1158.3 585.0,1165.0 C593.7,1171.7 609.5,1175.5 612.0,1180.0 C614.5,1184.5 608.7,1190.3 600.0,1192.0 C591.3,1193.7 571.7,1191.2 560.0,1190.0 C548.3,1188.8 539.2,1188.3 530.0,1185.0 C520.8,1181.7 509.2,1184.2 505.0,1170.0 C500.8,1155.8 500.8,1112.5 505.0,1100.0Z" fill="#cdbb52" />
<path d="M600.0,1050.0 C603.0,1042.5 616.7,1045.3 625.0,1045.0 C633.3,1044.7 643.3,1043.8 650.0,1048.0 C656.7,1052.2 663.3,1062.2 665.0,1070.0 C666.7,1077.8 665.8,1090.3 660.0,1095.0 C654.2,1099.7 638.8,1098.8 630.0,1098.0 C621.2,1097.2 612.0,1098.0 607.0,1090.0 C602.0,1082.0 597.0,1057.5 600.0,1050.0Z" fill="#eedde8" />
<path d="M648.0,1048.0 C651.8,1043.8 668.0,1043.0 675.0,1045.0 C682.0,1047.0 687.8,1053.3 690.0,1060.0 C692.2,1066.7 692.2,1080.8 688.0,1085.0 C683.8,1089.2 671.0,1087.5 665.0,1085.0 C659.0,1082.5 654.8,1076.2 652.0,1070.0 C649.2,1063.8 644.2,1052.2 648.0,1048.0Z" fill="#8ed07a" />
<path d="M480.0,1050.0 C483.7,1043.3 493.3,1045.0 500.0,1045.0 C506.7,1045.0 514.2,1045.0 520.0,1050.0 C525.8,1055.0 535.0,1066.7 535.0,1075.0 C535.0,1083.3 526.7,1095.0 520.0,1100.0 C513.3,1105.0 502.0,1107.5 495.0,1105.0 C488.0,1102.5 480.5,1094.2 478.0,1085.0 C475.5,1075.8 476.3,1056.7 480.0,1050.0Z" fill="#d8d4f0" />
<path d="M505.0,915.0 C507.5,907.5 515.8,903.3 520.0,905.0 C524.2,906.7 528.7,916.7 530.0,925.0 C531.3,933.3 530.5,948.8 528.0,955.0 C525.5,961.2 518.8,962.8 515.0,962.0 C511.2,961.2 506.7,957.8 505.0,950.0 C503.3,942.2 502.5,922.5 505.0,915.0Z" fill="#9fe0ee" />
<path d="M523.0,905.0 C524.3,901.3 527.2,899.5 530.0,898.0 C532.8,896.5 537.0,895.3 540.0,896.0 C543.0,896.7 546.8,898.8 548.0,902.0 C549.2,905.2 547.8,910.3 547.0,915.0 C546.2,919.7 543.2,925.0 543.0,930.0 C542.8,935.0 546.0,940.5 546.0,945.0 C546.0,949.5 545.3,954.8 543.0,957.0 C540.7,959.2 534.7,960.0 532.0,958.0 C529.3,956.0 527.7,949.7 527.0,945.0 C526.3,940.3 528.8,934.2 528.0,930.0 C527.2,925.8 522.8,924.2 522.0,920.0 C521.2,915.8 521.7,908.7 523.0,905.0Z" fill="#00BBDA" />
<path d="M330.0,990.0 C330.3,985.0 331.3,978.7 333.0,975.0 C334.7,971.3 338.2,971.3 340.0,968.0 C341.8,964.7 342.7,958.7 344.0,955.0 C345.3,951.3 346.0,947.7 348.0,946.0 C350.0,944.3 353.8,944.3 356.0,945.0 C358.2,945.7 360.3,947.8 361.0,950.0 C361.7,952.2 358.8,956.0 360.0,958.0 C361.2,960.0 364.7,960.7 368.0,962.0 C371.3,963.3 376.7,964.7 380.0,966.0 C383.3,967.3 387.2,967.7 388.0,970.0 C388.8,972.3 387.2,976.7 385.0,980.0 C382.8,983.3 378.3,986.7 375.0,990.0 C371.7,993.3 368.0,996.3 365.0,1000.0 C362.0,1003.7 359.8,1009.3 357.0,1012.0 C354.2,1014.7 351.2,1015.7 348.0,1016.0 C344.8,1016.3 340.8,1015.8 338.0,1014.0 C335.2,1012.2 332.3,1009.0 331.0,1005.0 C329.7,1001.0 329.7,995.0 330.0,990.0Z" fill="#00ACFC" />
<path d="M465.0,940.0 C465.7,935.8 467.5,932.2 470.0,930.0 C472.5,927.8 476.3,927.0 480.0,927.0 C483.7,927.0 488.7,928.7 492.0,930.0 C495.3,931.3 497.8,932.5 500.0,935.0 C502.2,937.5 504.5,940.8 505.0,945.0 C505.5,949.2 503.0,955.0 503.0,960.0 C503.0,965.0 505.5,970.0 505.0,975.0 C504.5,980.0 502.5,985.8 500.0,990.0 C497.5,994.2 493.7,998.3 490.0,1000.0 C486.3,1001.7 481.3,1001.7 478.0,1000.0 C474.7,998.3 471.7,995.0 470.0,990.0 C468.3,985.0 468.7,975.8 468.0,970.0 C467.3,964.2 466.5,960.0 466.0,955.0 C465.5,950.0 464.3,944.2 465.0,940.0Z" fill="#00C1AB" />
<path d="M492.0,970.0 C493.5,965.8 500.3,965.3 505.0,965.0 C509.7,964.7 514.2,967.8 520.0,968.0 C525.8,968.2 533.7,966.0 540.0,966.0 C546.3,966.0 553.5,966.5 558.0,968.0 C562.5,969.5 565.8,971.3 567.0,975.0 C568.2,978.7 567.0,985.8 565.0,990.0 C563.0,994.2 559.2,997.8 555.0,1000.0 C550.8,1002.2 544.5,1002.2 540.0,1003.0 C535.5,1003.8 532.2,1005.0 528.0,1005.0 C523.8,1005.0 518.8,1004.2 515.0,1003.0 C511.2,1001.8 508.2,1000.2 505.0,998.0 C501.8,995.8 498.2,994.7 496.0,990.0 C493.8,985.3 490.5,974.2 492.0,970.0Z" fill="#00BE70" />
<path d="M468.0,1000.0 C471.7,993.8 483.8,997.2 490.0,998.0 C496.2,998.8 501.3,1001.3 505.0,1005.0 C508.7,1008.7 512.0,1014.2 512.0,1020.0 C512.0,1025.8 507.8,1034.7 505.0,1040.0 C502.2,1045.3 499.5,1050.3 495.0,1052.0 C490.5,1053.7 482.5,1052.8 478.0,1050.0 C473.5,1047.2 469.7,1043.3 468.0,1035.0 C466.3,1026.7 464.3,1006.2 468.0,1000.0Z" fill="#00BE70" />
<path d="M560,1000 Q590,1025 612,1062" stroke="#00BE70" stroke-width="5" fill="none" opacity="0.6"/>
<path d="M417.0,936.0 C417.8,933.3 422.7,932.7 425.0,933.0 C427.3,933.3 430.0,935.5 431.0,938.0 C432.0,940.5 432.8,946.2 431.0,948.0 C429.2,949.8 422.3,951.0 420.0,949.0 C417.7,947.0 416.2,938.7 417.0,936.0Z" fill="#00BE70" />
<path d="M448.0,934.0 C449.0,932.0 453.0,930.0 455.0,931.0 C457.0,932.0 459.7,937.8 460.0,940.0 C460.3,942.2 458.8,943.5 457.0,944.0 C455.2,944.5 450.5,944.7 449.0,943.0 C447.5,941.3 447.0,936.0 448.0,934.0Z" fill="#00BE70" />
<path d="M488.0,1060.0 C491.3,1053.3 502.2,1054.2 510.0,1055.0 C517.8,1055.8 529.2,1059.2 535.0,1065.0 C540.8,1070.8 545.8,1082.5 545.0,1090.0 C544.2,1097.5 536.7,1106.3 530.0,1110.0 C523.3,1113.7 511.7,1114.5 505.0,1112.0 C498.3,1109.5 492.8,1103.7 490.0,1095.0 C487.2,1086.3 484.7,1066.7 488.0,1060.0Z" fill="#c5c8ff" />
<path d="M436.0,1110.0 C438.8,1102.5 444.7,1098.0 450.0,1095.0 C455.3,1092.0 462.2,1091.2 468.0,1092.0 C473.8,1092.8 479.7,1097.0 485.0,1100.0 C490.3,1103.0 495.0,1106.7 500.0,1110.0 C505.0,1113.3 510.0,1115.0 515.0,1120.0 C520.0,1125.0 525.0,1133.3 530.0,1140.0 C535.0,1146.7 540.0,1154.2 545.0,1160.0 C550.0,1165.8 558.3,1170.8 560.0,1175.0 C561.7,1179.2 560.0,1184.2 555.0,1185.0 C550.0,1185.8 537.5,1180.0 530.0,1180.0 C522.5,1180.0 515.8,1181.7 510.0,1185.0 C504.2,1188.3 501.7,1196.3 495.0,1200.0 C488.3,1203.7 478.3,1206.2 470.0,1207.0 C461.7,1207.8 451.3,1207.8 445.0,1205.0 C438.7,1202.2 434.5,1196.7 432.0,1190.0 C429.5,1183.3 429.8,1173.3 430.0,1165.0 C430.2,1156.7 432.0,1149.2 433.0,1140.0 C434.0,1130.8 433.2,1117.5 436.0,1110.0Z" fill="#BE9C00" />
<path d="M513.0,1045.0 C515.8,1041.3 523.8,1038.8 530.0,1038.0 C536.2,1037.2 543.3,1038.0 550.0,1040.0 C556.7,1042.0 564.7,1045.8 570.0,1050.0 C575.3,1054.2 578.7,1060.0 582.0,1065.0 C585.3,1070.0 587.0,1075.0 590.0,1080.0 C593.0,1085.0 597.0,1089.2 600.0,1095.0 C603.0,1100.8 606.3,1108.3 608.0,1115.0 C609.7,1121.7 610.5,1129.2 610.0,1135.0 C609.5,1140.8 608.3,1146.2 605.0,1150.0 C601.7,1153.8 595.8,1156.3 590.0,1158.0 C584.2,1159.7 575.8,1161.3 570.0,1160.0 C564.2,1158.7 558.3,1155.8 555.0,1150.0 C551.7,1144.2 551.7,1133.3 550.0,1125.0 C548.3,1116.7 547.5,1106.7 545.0,1100.0 C542.5,1093.3 539.2,1089.2 535.0,1085.0 C530.8,1080.8 523.7,1079.2 520.0,1075.0 C516.3,1070.8 514.2,1065.0 513.0,1060.0 C511.8,1055.0 510.2,1048.7 513.0,1045.0Z" fill="#8CAB00" />
<path d="M605.0,1110.0 C607.5,1102.5 614.2,1098.3 620.0,1095.0 C625.8,1091.7 633.3,1092.2 640.0,1090.0 C646.7,1087.8 653.3,1083.7 660.0,1082.0 C666.7,1080.3 674.2,1078.7 680.0,1080.0 C685.8,1081.3 691.7,1085.0 695.0,1090.0 C698.3,1095.0 700.0,1102.5 700.0,1110.0 C700.0,1117.5 697.5,1126.7 695.0,1135.0 C692.5,1143.3 689.2,1152.5 685.0,1160.0 C680.8,1167.5 675.8,1174.7 670.0,1180.0 C664.2,1185.3 656.7,1189.5 650.0,1192.0 C643.3,1194.5 636.7,1195.0 630.0,1195.0 C623.3,1195.0 616.7,1193.7 610.0,1192.0 C603.3,1190.3 595.8,1187.8 590.0,1185.0 C584.2,1182.2 575.0,1179.2 575.0,1175.0 C575.0,1170.8 585.0,1165.8 590.0,1160.0 C595.0,1154.2 602.5,1148.3 605.0,1140.0 C607.5,1131.7 602.5,1117.5 605.0,1110.0Z" fill="#E18A00" />
<path d="M650.0,1050.0 C653.0,1045.8 663.3,1045.7 670.0,1045.0 C676.7,1044.3 683.3,1045.2 690.0,1046.0 C696.7,1046.8 704.2,1047.7 710.0,1050.0 C715.8,1052.3 721.3,1055.8 725.0,1060.0 C728.7,1064.2 731.2,1069.2 732.0,1075.0 C732.8,1080.8 731.7,1089.5 730.0,1095.0 C728.3,1100.5 725.0,1103.8 722.0,1108.0 C719.0,1112.2 715.7,1118.0 712.0,1120.0 C708.3,1122.0 703.7,1122.5 700.0,1120.0 C696.3,1117.5 693.3,1110.0 690.0,1105.0 C686.7,1100.0 684.2,1094.2 680.0,1090.0 C675.8,1085.8 669.7,1083.3 665.0,1080.0 C660.3,1076.7 654.5,1075.0 652.0,1070.0 C649.5,1065.0 647.0,1054.2 650.0,1050.0Z" fill="#24B700" />
<path d="M337.0,1047.0 C337.8,1039.8 340.6,1031.2 344.2,1025.2 C347.8,1019.2 352.6,1016.0 358.7,1010.7 C364.8,1005.5 374.4,999.4 380.5,993.7 C386.6,988.1 389.8,982.4 395.0,976.8 C400.2,971.1 405.6,963.8 412.0,959.8 C418.4,955.8 428.1,953.8 433.7,952.6 C439.3,951.4 440.6,950.6 445.8,952.6 C451.1,954.6 459.9,959.9 465.2,964.7 C470.4,969.5 474.9,974.8 477.3,981.6 C479.7,988.5 478.1,998.5 479.7,1005.8 C481.3,1013.1 485.4,1018.8 487.0,1025.2 C488.6,1031.7 490.6,1038.0 489.4,1044.5 C488.2,1051.0 483.3,1057.9 479.7,1063.9 C476.1,1070.0 470.4,1075.2 467.6,1080.8 C464.8,1086.4 464.8,1091.8 462.8,1097.8 C460.8,1103.8 458.3,1111.4 455.5,1117.0 C452.7,1122.6 449.1,1125.5 445.8,1131.6 C442.6,1137.7 439.2,1147.0 436.0,1153.4 C432.8,1159.9 429.7,1168.3 426.5,1170.3 C423.3,1172.3 419.6,1168.7 416.8,1165.5 C414.0,1162.3 412.3,1156.2 409.5,1151.0 C406.7,1145.8 403.8,1139.2 399.8,1134.0 C395.8,1128.8 390.5,1124.7 385.3,1119.5 C380.1,1114.3 374.0,1107.8 368.4,1102.6 C362.8,1097.3 356.3,1093.7 351.5,1088.0 C346.7,1082.3 341.8,1075.5 339.4,1068.7 C337.0,1061.9 336.2,1054.2 337.0,1047.0Z" fill="#F8766D" />
<circle cx="565" cy="1028" r="5" fill="#D575FE"/>
<circle cx="387" cy="1151" r="6" fill="#FF65AC"/>
<path d="M632,991 Q660,1010 685,1037" stroke="#00BBDA" stroke-width="3" fill="none" opacity="0.7"/>
<g filter="url(#spk2)" opacity="0.55"><rect x="325" y="890" width="410" height="320" fill="#fff"/></g>
<line x1="140" y1="1153.0" x2="140" y2="976.8" stroke="#000" stroke-width="2.2" />
<polygon points="128.5,977.8 151.5,977.8 140,954.8" fill="#000"/>
<line x1="138.9" y1="1151.9" x2="313" y2="1151.9" stroke="#000" stroke-width="2.2" />
<polygon points="312,1140.4 312,1163.4 335,1151.9" fill="#000"/>
<text transform="translate(107.8,1053.3) rotate(-90)" font-size="30.9" fill="#000" font-weight="normal" text-anchor="middle" >Umap.harmony-2</text>
<text x="120.5" y="1197.8" font-size="30.5" fill="#000" font-weight="normal" text-anchor="start" >Umap.harmony-1</text>
<text x="537.8" y="922.9" font-size="25" fill="#000" font-weight="normal" text-anchor="middle" >7</text>
<text x="481" y="950.7" font-size="25" fill="#000" font-weight="normal" text-anchor="middle" >6</text>
<text x="341.3" y="989.4" font-size="25" fill="#000" font-weight="normal" text-anchor="middle" >8</text>
<text x="528.6" y="1004" font-size="25" fill="#000" font-weight="normal" text-anchor="middle" >5</text>
<text x="389" y="1035.4" font-size="25" fill="#000" font-weight="normal" text-anchor="middle" >11</text>
<text x="571.6" y="1047.5" font-size="25" fill="#000" font-weight="normal" text-anchor="middle" >10</text>
<text x="431.3" y="1076.5" font-size="25" fill="#000" font-weight="normal" text-anchor="middle" >0</text>
<text x="517.2" y="1094.7" font-size="25" fill="#000" font-weight="normal" text-anchor="middle" >9</text>
<text x="704.7" y="1080" font-size="25" fill="#000" font-weight="normal" text-anchor="middle" >4</text>
<text x="579.4" y="1132" font-size="25" fill="#000" font-weight="normal" text-anchor="middle" >3</text>
<text x="382.4" y="1160" font-size="25" fill="#000" font-weight="normal" text-anchor="middle" >12</text>
<text x="646.6" y="1162.4" font-size="25" fill="#000" font-weight="normal" text-anchor="middle" >1</text>
<text x="468.8" y="1181.8" font-size="25" fill="#000" font-weight="normal" text-anchor="middle" >2</text>
<path d="M828.0,999.7 C829.0,995.7 829.9,994.3 832.4,987.8 C834.9,981.3 839.7,966.8 843.0,960.8 C846.3,954.8 849.0,952.3 852.0,951.8 C855.0,951.3 856.5,955.3 861.0,957.8 C865.5,960.3 872.4,966.3 878.9,966.8 C885.4,967.3 892.8,964.3 899.8,960.8 C906.8,957.3 914.8,948.3 920.8,945.8 C926.8,943.3 930.3,945.3 935.8,945.8 C941.3,946.3 949.3,949.3 953.8,948.8 C958.3,948.3 957.7,944.3 962.7,942.8 C967.7,941.3 976.2,940.3 983.7,939.8 C991.2,939.3 1001.7,941.3 1007.7,939.8 C1013.7,938.3 1014.7,935.3 1019.7,930.8 C1024.7,926.3 1031.6,916.4 1037.6,912.9 C1043.6,909.4 1050.9,908.9 1055.6,909.9 C1060.3,910.9 1065.5,912.9 1066.0,918.9 C1066.5,924.9 1056.8,936.3 1058.6,945.8 C1060.4,955.3 1072.6,968.8 1076.6,975.8 C1080.6,982.8 1082.6,983.3 1082.6,987.8 C1082.6,992.3 1074.1,997.7 1076.6,1002.7 C1079.1,1007.7 1090.6,1012.2 1097.6,1017.7 C1104.6,1023.2 1113.0,1029.7 1118.5,1035.7 C1124.0,1041.7 1125.0,1047.7 1130.5,1053.7 C1136.0,1059.7 1145.5,1067.1 1151.5,1071.6 C1157.5,1076.1 1162.5,1083.1 1166.5,1080.6 C1170.5,1078.1 1171.0,1062.2 1175.5,1056.7 C1180.0,1051.2 1186.4,1049.2 1193.4,1047.7 C1200.4,1046.2 1208.4,1046.7 1217.4,1047.7 C1226.4,1048.7 1239.8,1050.2 1247.3,1053.7 C1254.8,1057.2 1260.3,1062.7 1262.3,1068.7 C1264.3,1074.7 1261.8,1083.1 1259.3,1089.6 C1256.8,1096.1 1252.3,1100.6 1247.3,1107.6 C1242.3,1114.6 1234.9,1123.6 1229.4,1131.6 C1223.9,1139.6 1220.4,1148.5 1214.4,1155.5 C1208.4,1162.5 1200.9,1169.0 1193.4,1173.5 C1185.9,1178.0 1178.5,1181.2 1169.5,1182.5 C1160.5,1183.8 1149.5,1181.5 1139.5,1181.0 C1129.5,1180.5 1119.5,1180.8 1109.5,1179.5 C1099.5,1178.2 1088.6,1176.5 1079.6,1173.5 C1070.6,1170.5 1062.6,1162.0 1055.6,1161.5 C1048.6,1161.0 1043.6,1167.5 1037.6,1170.5 C1031.6,1173.5 1027.7,1176.5 1019.7,1179.5 C1011.7,1182.5 999.7,1186.5 989.7,1188.5 C979.7,1190.5 967.7,1193.0 959.7,1191.5 C951.7,1190.0 947.8,1186.0 941.8,1179.5 C935.8,1173.0 930.8,1159.5 923.8,1152.5 C916.8,1145.5 906.8,1142.6 899.8,1137.6 C892.8,1132.6 888.9,1129.1 881.9,1122.6 C874.9,1116.1 865.4,1107.1 857.9,1098.6 C850.4,1090.1 841.4,1082.1 836.9,1071.6 C832.4,1061.1 832.6,1045.7 830.9,1035.7 C829.1,1025.7 826.9,1017.7 826.4,1011.7 C825.9,1005.7 827.0,1003.7 828.0,999.7Z" fill="#8eaee6" />
<circle cx="891" cy="1138" r="8" fill="#8aa6e4"/>
<path d="M1155,995 Q1185,1015 1212,1035" stroke="#b8d8ea" stroke-width="5" fill="none"/>
<clipPath id="cpnor"><path d="M828.0,999.7 C829.0,995.7 829.9,994.3 832.4,987.8 C834.9,981.3 839.7,966.8 843.0,960.8 C846.3,954.8 849.0,952.3 852.0,951.8 C855.0,951.3 856.5,955.3 861.0,957.8 C865.5,960.3 872.4,966.3 878.9,966.8 C885.4,967.3 892.8,964.3 899.8,960.8 C906.8,957.3 914.8,948.3 920.8,945.8 C926.8,943.3 930.3,945.3 935.8,945.8 C941.3,946.3 949.3,949.3 953.8,948.8 C958.3,948.3 957.7,944.3 962.7,942.8 C967.7,941.3 976.2,940.3 983.7,939.8 C991.2,939.3 1001.7,941.3 1007.7,939.8 C1013.7,938.3 1014.7,935.3 1019.7,930.8 C1024.7,926.3 1031.6,916.4 1037.6,912.9 C1043.6,909.4 1050.9,908.9 1055.6,909.9 C1060.3,910.9 1065.5,912.9 1066.0,918.9 C1066.5,924.9 1056.8,936.3 1058.6,945.8 C1060.4,955.3 1072.6,968.8 1076.6,975.8 C1080.6,982.8 1082.6,983.3 1082.6,987.8 C1082.6,992.3 1074.1,997.7 1076.6,1002.7 C1079.1,1007.7 1090.6,1012.2 1097.6,1017.7 C1104.6,1023.2 1113.0,1029.7 1118.5,1035.7 C1124.0,1041.7 1125.0,1047.7 1130.5,1053.7 C1136.0,1059.7 1145.5,1067.1 1151.5,1071.6 C1157.5,1076.1 1162.5,1083.1 1166.5,1080.6 C1170.5,1078.1 1171.0,1062.2 1175.5,1056.7 C1180.0,1051.2 1186.4,1049.2 1193.4,1047.7 C1200.4,1046.2 1208.4,1046.7 1217.4,1047.7 C1226.4,1048.7 1239.8,1050.2 1247.3,1053.7 C1254.8,1057.2 1260.3,1062.7 1262.3,1068.7 C1264.3,1074.7 1261.8,1083.1 1259.3,1089.6 C1256.8,1096.1 1252.3,1100.6 1247.3,1107.6 C1242.3,1114.6 1234.9,1123.6 1229.4,1131.6 C1223.9,1139.6 1220.4,1148.5 1214.4,1155.5 C1208.4,1162.5 1200.9,1169.0 1193.4,1173.5 C1185.9,1178.0 1178.5,1181.2 1169.5,1182.5 C1160.5,1183.8 1149.5,1181.5 1139.5,1181.0 C1129.5,1180.5 1119.5,1180.8 1109.5,1179.5 C1099.5,1178.2 1088.6,1176.5 1079.6,1173.5 C1070.6,1170.5 1062.6,1162.0 1055.6,1161.5 C1048.6,1161.0 1043.6,1167.5 1037.6,1170.5 C1031.6,1173.5 1027.7,1176.5 1019.7,1179.5 C1011.7,1182.5 999.7,1186.5 989.7,1188.5 C979.7,1190.5 967.7,1193.0 959.7,1191.5 C951.7,1190.0 947.8,1186.0 941.8,1179.5 C935.8,1173.0 930.8,1159.5 923.8,1152.5 C916.8,1145.5 906.8,1142.6 899.8,1137.6 C892.8,1132.6 888.9,1129.1 881.9,1122.6 C874.9,1116.1 865.4,1107.1 857.9,1098.6 C850.4,1090.1 841.4,1082.1 836.9,1071.6 C832.4,1061.1 832.6,1045.7 830.9,1035.7 C829.1,1025.7 826.9,1017.7 826.4,1011.7 C825.9,1005.7 827.0,1003.7 828.0,999.7Z"/></clipPath>
<g clip-path="url(#cpnor)">
<rect x="820" y="900" width="450" height="300" fill="#7048b8" filter="url(#spk3)" opacity="0.6"/>
<ellipse cx="925" cy="1045" rx="100" ry="80" fill="url(#gnor)" opacity="1"/>
<ellipse cx="935" cy="1050" rx="60" ry="50" fill="url(#gpur2)" opacity="0.45"/>
<ellipse cx="990" cy="1155" rx="45" ry="35" fill="url(#gpur2)" opacity="0.7"/>
<ellipse cx="870" cy="968" rx="30" ry="18" fill="url(#gcy)" opacity="0.7"/>
<ellipse cx="900" cy="1110" rx="40" ry="30" fill="url(#gnor)" opacity="0.6"/>
<ellipse cx="1045" cy="1080" rx="38" ry="38" fill="url(#gwht)" opacity="0.75"/>
<ellipse cx="1045" cy="948" rx="22" ry="42" fill="url(#gcy)" opacity="0.9"/>
<ellipse cx="835" cy="1010" rx="14" ry="45" fill="url(#gcy)" opacity="0.6"/>
<ellipse cx="1215" cy="1125" rx="45" ry="50" fill="url(#gnor)" opacity="0.55"/>
<ellipse cx="1200" cy="1065" rx="35" ry="15" fill="url(#gcy)" opacity="0.5"/>
<ellipse cx="1110" cy="1150" rx="50" ry="30" fill="url(#gnor)" opacity="0.35"/>
</g>
<path d="M1381.5,998.3 C1382.2,982.4 1389.8,965.2 1394.0,956.9 C1398.2,948.6 1398.8,947.9 1406.4,948.6 C1414.0,949.3 1427.8,962.4 1439.5,961.0 C1451.2,959.6 1464.5,944.4 1476.9,940.3 C1489.4,936.1 1504.5,937.5 1514.2,936.1 C1523.9,934.7 1525.3,934.8 1535.0,932.0 C1544.7,929.2 1561.9,924.0 1572.3,919.5 C1582.7,915.0 1590.0,905.7 1597.2,905.0 C1604.5,904.3 1613.0,906.8 1615.8,915.4 C1618.5,924.0 1610.2,947.2 1613.7,956.9 C1617.2,966.6 1633.8,965.9 1636.6,973.5 C1639.4,981.1 1627.2,993.5 1630.3,1002.5 C1633.4,1011.5 1646.9,1019.8 1655.2,1027.4 C1663.5,1035.0 1670.3,1041.1 1680.0,1048.0 C1689.7,1054.9 1704.3,1068.9 1713.3,1068.9 C1722.3,1068.9 1723.6,1052.2 1734.0,1048.0 C1744.4,1043.8 1762.4,1042.6 1775.5,1044.0 C1788.6,1045.4 1805.9,1050.9 1812.8,1056.4 C1819.7,1061.9 1819.8,1068.0 1817.0,1077.0 C1814.2,1086.0 1803.1,1097.8 1796.2,1110.3 C1789.3,1122.8 1785.9,1140.7 1775.5,1151.8 C1765.1,1162.9 1747.8,1172.5 1734.0,1176.7 C1720.2,1180.9 1709.8,1177.4 1692.5,1176.7 C1675.2,1176.0 1647.6,1174.6 1630.3,1172.5 C1613.0,1170.4 1601.3,1162.9 1588.9,1164.3 C1576.5,1165.7 1568.2,1177.0 1555.7,1180.8 C1543.2,1184.6 1525.3,1189.1 1514.2,1187.0 C1503.1,1184.9 1497.6,1177.0 1489.3,1168.4 C1481.0,1159.8 1473.4,1142.8 1464.4,1135.2 C1455.4,1127.6 1444.4,1130.4 1435.4,1122.8 C1426.4,1115.2 1418.1,1101.3 1410.5,1089.6 C1402.9,1077.8 1394.6,1067.5 1389.8,1052.3 C1385.0,1037.1 1380.8,1014.2 1381.5,998.3Z" fill="#d2e6ee" />
<path d="M1709,990 Q1740,1010 1767,1031" stroke="#a9c9ea" stroke-width="5" fill="none"/>
<clipPath id="cpmes"><path d="M1381.5,998.3 C1382.2,982.4 1389.8,965.2 1394.0,956.9 C1398.2,948.6 1398.8,947.9 1406.4,948.6 C1414.0,949.3 1427.8,962.4 1439.5,961.0 C1451.2,959.6 1464.5,944.4 1476.9,940.3 C1489.4,936.1 1504.5,937.5 1514.2,936.1 C1523.9,934.7 1525.3,934.8 1535.0,932.0 C1544.7,929.2 1561.9,924.0 1572.3,919.5 C1582.7,915.0 1590.0,905.7 1597.2,905.0 C1604.5,904.3 1613.0,906.8 1615.8,915.4 C1618.5,924.0 1610.2,947.2 1613.7,956.9 C1617.2,966.6 1633.8,965.9 1636.6,973.5 C1639.4,981.1 1627.2,993.5 1630.3,1002.5 C1633.4,1011.5 1646.9,1019.8 1655.2,1027.4 C1663.5,1035.0 1670.3,1041.1 1680.0,1048.0 C1689.7,1054.9 1704.3,1068.9 1713.3,1068.9 C1722.3,1068.9 1723.6,1052.2 1734.0,1048.0 C1744.4,1043.8 1762.4,1042.6 1775.5,1044.0 C1788.6,1045.4 1805.9,1050.9 1812.8,1056.4 C1819.7,1061.9 1819.8,1068.0 1817.0,1077.0 C1814.2,1086.0 1803.1,1097.8 1796.2,1110.3 C1789.3,1122.8 1785.9,1140.7 1775.5,1151.8 C1765.1,1162.9 1747.8,1172.5 1734.0,1176.7 C1720.2,1180.9 1709.8,1177.4 1692.5,1176.7 C1675.2,1176.0 1647.6,1174.6 1630.3,1172.5 C1613.0,1170.4 1601.3,1162.9 1588.9,1164.3 C1576.5,1165.7 1568.2,1177.0 1555.7,1180.8 C1543.2,1184.6 1525.3,1189.1 1514.2,1187.0 C1503.1,1184.9 1497.6,1177.0 1489.3,1168.4 C1481.0,1159.8 1473.4,1142.8 1464.4,1135.2 C1455.4,1127.6 1444.4,1130.4 1435.4,1122.8 C1426.4,1115.2 1418.1,1101.3 1410.5,1089.6 C1402.9,1077.8 1394.6,1067.5 1389.8,1052.3 C1385.0,1037.1 1380.8,1014.2 1381.5,998.3Z"/></clipPath>
<g clip-path="url(#cpmes)">
<rect x="1375" y="900" width="450" height="300" fill="#5a7ad8" filter="url(#spk)" opacity="0.42"/>
<ellipse cx="1490" cy="1005" rx="85" ry="60" fill="url(#gblu)" opacity="0.55"/>
<ellipse cx="1553" cy="948" rx="18" ry="16" fill="url(#gpur)" opacity="0.6"/>
<ellipse cx="1600" cy="922" rx="16" ry="16" fill="url(#gpur2)" opacity="0.7"/>
<ellipse cx="1636" cy="1024" rx="10" ry="8" fill="url(#gpur)" opacity="0.6"/>
<ellipse cx="1530" cy="1150" rx="40" ry="25" fill="url(#gblu)" opacity="0.4"/>
<ellipse cx="1760" cy="1090" rx="50" ry="40" fill="url(#gblu)" opacity="0.3"/>
<ellipse cx="1565" cy="1090" rx="20" ry="20" fill="url(#gblu)" opacity="0.5"/>
<ellipse cx="1430" cy="1080" rx="30" ry="30" fill="url(#glig)" opacity="0.6"/>
</g>
<linearGradient id="gcb" x1="0" y1="0" x2="0" y2="1"><stop offset="0" stop-color="#3a0c34"/><stop offset="0.25" stop-color="#6a2884"/><stop offset="0.42" stop-color="#7a58c2"/><stop offset="0.55" stop-color="#6f80dc"/><stop offset="0.7" stop-color="#78a8e2"/><stop offset="0.85" stop-color="#9ccce0"/><stop offset="1" stop-color="#dcecee"/></linearGradient>
<rect x="1922.3" y="1016.7" width="17.3" height="103.09999999999991" fill="url(#gcb)"/>
<line x1="1922.3" y1="1045.4" x2="1925.3" y2="1045.4" stroke="#fff" stroke-width="1.2" />
<line x1="1936.6" y1="1045.4" x2="1939.6" y2="1045.4" stroke="#fff" stroke-width="1.2" />
<line x1="1922.3" y1="1074.4" x2="1925.3" y2="1074.4" stroke="#fff" stroke-width="1.2" />
<line x1="1936.6" y1="1074.4" x2="1939.6" y2="1074.4" stroke="#fff" stroke-width="1.2" />
<line x1="1922.3" y1="1104.3" x2="1925.3" y2="1104.3" stroke="#fff" stroke-width="1.2" />
<line x1="1936.6" y1="1104.3" x2="1939.6" y2="1104.3" stroke="#fff" stroke-width="1.2" />
<text x="1942" y="1031.5" font-size="26" fill="#000" font-weight="normal" text-anchor="start" >10</text>
<text x="1946.3" y="1080" font-size="26" fill="#000" font-weight="normal" text-anchor="start" >5</text>
<text x="1946.3" y="1132.4" font-size="26" fill="#000" font-weight="normal" text-anchor="start" >0</text>
<text x="0" y="1252.3" font-size="46" fill="#000" font-weight="bold" text-anchor="start" >C</text>
<g><circle cx="235.5" cy="1289.5" r="11.4" fill="#f0e6ff"/><circle cx="320.6" cy="1289.5" r="10.3" fill="#f5effe"/><circle cx="405.7" cy="1289.5" r="10.3" fill="#efe4ff"/><circle cx="490.8" cy="1289.5" r="9.1" fill="#ffa98c"/><circle cx="575.9" cy="1289.5" r="7.8" fill="#f5effe"/><circle cx="661.0" cy="1289.5" r="3.9" fill="#fffaf5"/><circle cx="746.1" cy="1289.5" r="2.5" fill="#ffd9c8"/><circle cx="831.2" cy="1289.5" r="3.0" fill="#fdfcff"/><circle cx="916.3" cy="1289.5" r="2.5" fill="#e0ccfd"/><circle cx="1001.4" cy="1289.5" r="4.0" fill="#efe5fe"/><circle cx="1086.5" cy="1289.5" r="2.5" fill="#efe5fe"/><circle cx="1171.6" cy="1289.5" r="3.0" fill="#f0e6fe"/><circle cx="1256.7" cy="1289.5" r="4.7" fill="#e4d3fd"/><circle cx="1341.8" cy="1289.5" r="6.2" fill="#c2a0fb"/><circle cx="1426.9" cy="1289.5" r="4.7" fill="#efe5fe"/><circle cx="1512.0" cy="1289.5" r="3.1" fill="#eee3fe"/><circle cx="1597.1" cy="1289.5" r="4.7" fill="#ebdffe"/><circle cx="1682.2" cy="1289.5" r="3.9" fill="#efe5fe"/><circle cx="235.5" cy="1332.1" r="11.9" fill="#c5a8fb"/><circle cx="320.6" cy="1332.1" r="11.9" fill="#dcc8fd"/><circle cx="405.7" cy="1332.1" r="13.0" fill="#f7f1ff"/><circle cx="490.8" cy="1332.1" r="9.8" fill="#fff0ea"/><circle cx="575.9" cy="1332.1" r="10.3" fill="#e9dcfe"/><circle cx="661.0" cy="1332.1" r="4.9" fill="#e4d3fd"/><circle cx="746.1" cy="1332.1" r="2.5" fill="#e9dcfe"/><circle cx="831.2" cy="1332.1" r="3.9" fill="#f6f1ff"/><circle cx="916.3" cy="1332.1" r="3.0" fill="#f3ecfe"/><circle cx="1001.4" cy="1332.1" r="4.5" fill="#e4d3fd"/><circle cx="1086.5" cy="1332.1" r="3.5" fill="#f0e6fe"/><circle cx="1171.6" cy="1332.1" r="4.0" fill="#efe5fe"/><circle cx="1256.7" cy="1332.1" r="9.3" fill="#f4eefe"/><circle cx="1341.8" cy="1332.1" r="10.9" fill="#f2eafe"/><circle cx="1426.9" cy="1332.1" r="8.5" fill="#f2eafe"/><circle cx="1512.0" cy="1332.1" r="12.5" fill="#ff0000"/><circle cx="1597.1" cy="1332.1" r="14.8" fill="#ff0000"/><circle cx="1682.2" cy="1332.1" r="14.0" fill="#ff0000"/><circle cx="235.5" cy="1374.7" r="12.4" fill="#d8c4fd"/><circle cx="320.6" cy="1374.7" r="11.9" fill="#dcc8fd"/><circle cx="405.7" cy="1374.7" r="13.0" fill="#f6f0ff"/><circle cx="490.8" cy="1374.7" r="9.3" fill="#fff7f2"/><circle cx="575.9" cy="1374.7" r="9.8" fill="#e9dcfe"/><circle cx="661.0" cy="1374.7" r="4.9" fill="#e6d6fd"/><circle cx="746.1" cy="1374.7" r="2.5" fill="#f0e6fe"/><circle cx="831.2" cy="1374.7" r="3.5" fill="#f0e6fe"/><circle cx="916.3" cy="1374.7" r="3.0" fill="#eadefe"/><circle cx="1001.4" cy="1374.7" r="4.5" fill="#dfcbfd"/><circle cx="1086.5" cy="1374.7" r="3.0" fill="#eadefe"/><circle cx="1171.6" cy="1374.7" r="4.0" fill="#ebdffe"/><circle cx="1256.7" cy="1374.7" r="14.0" fill="#ff2314"/><circle cx="1341.8" cy="1374.7" r="13.2" fill="#fe967a"/><circle cx="1426.9" cy="1374.7" r="13.2" fill="#ff3520"/><circle cx="1512.0" cy="1374.7" r="10.0" fill="#fee9e0"/><circle cx="1597.1" cy="1374.7" r="14.8" fill="#feac92"/><circle cx="1682.2" cy="1374.7" r="14.0" fill="#ff8c6a"/><circle cx="235.5" cy="1417.4" r="12.5" fill="#fffaf7"/><circle cx="320.6" cy="1417.4" r="12.5" fill="#efe6fe"/><circle cx="405.7" cy="1417.4" r="12.5" fill="#fefeff"/><circle cx="490.8" cy="1417.4" r="8.3" fill="#f5f2ff"/><circle cx="575.9" cy="1417.4" r="9.3" fill="#f2eafe"/><circle cx="661.0" cy="1417.4" r="4.4" fill="#e6d6fd"/><circle cx="746.1" cy="1417.4" r="2.5" fill="#fffaf6"/><circle cx="831.2" cy="1417.4" r="3.0" fill="#f2eafe"/><circle cx="916.3" cy="1417.4" r="2.8" fill="#e3d1fd"/><circle cx="1001.4" cy="1417.4" r="4.0" fill="#e4d3fd"/><circle cx="1086.5" cy="1417.4" r="3.0" fill="#ebdffe"/><circle cx="1171.6" cy="1417.4" r="3.5" fill="#ebdffe"/><circle cx="1256.7" cy="1417.4" r="11.7" fill="#fe9a7d"/><circle cx="1341.8" cy="1417.4" r="11.7" fill="#ff8464"/><circle cx="1426.9" cy="1417.4" r="11.7" fill="#ff7556"/><circle cx="1512.0" cy="1417.4" r="5.5" fill="#f4eefe"/><circle cx="1597.1" cy="1417.4" r="10.0" fill="#f3ecfe"/><circle cx="1682.2" cy="1417.4" r="7.0" fill="#f0e6fe"/><circle cx="235.5" cy="1460.0" r="12.5" fill="#fffaf8"/><circle cx="320.6" cy="1460.0" r="9.8" fill="#dec9fd"/><circle cx="405.7" cy="1460.0" r="8.3" fill="#d5bffc"/><circle cx="490.8" cy="1460.0" r="7.8" fill="#c7a9fb"/><circle cx="575.9" cy="1460.0" r="9.8" fill="#eee3fe"/><circle cx="661.0" cy="1460.0" r="5.4" fill="#e8dafe"/><circle cx="746.1" cy="1460.0" r="2.0" fill="#e6d6fd"/><circle cx="831.2" cy="1460.0" r="2.5" fill="#f3ecfe"/><circle cx="916.3" cy="1460.0" r="8.5" fill="#ff8463"/><circle cx="1001.4" cy="1460.0" r="10.5" fill="#fe9c7e"/><circle cx="1086.5" cy="1460.0" r="10.0" fill="#fe967a"/><circle cx="1171.6" cy="1460.0" r="9.9" fill="#fe9575"/><circle cx="1256.7" cy="1460.0" r="10.9" fill="#feb9a2"/><circle cx="1341.8" cy="1460.0" r="11.7" fill="#fed9cb"/><circle cx="1426.9" cy="1460.0" r="10.0" fill="#fed3c2"/><circle cx="1512.0" cy="1460.0" r="6.2" fill="#fef0e9"/><circle cx="1597.1" cy="1460.0" r="9.3" fill="#fffcfb"/><circle cx="1682.2" cy="1460.0" r="9.3" fill="#fff9f6"/><circle cx="235.5" cy="1502.6" r="14.5" fill="#e6d6fe"/><circle cx="320.6" cy="1502.6" r="5.7" fill="#bd98fa"/><circle cx="405.7" cy="1502.6" r="10.3" fill="#cbb0fc"/><circle cx="490.8" cy="1502.6" r="4.2" fill="#9a66f8"/><circle cx="575.9" cy="1502.6" r="10.8" fill="#f1e8fe"/><circle cx="661.0" cy="1502.6" r="8.3" fill="#fe9a78"/><circle cx="746.1" cy="1502.6" r="1.5" fill="#e4d3fd"/><circle cx="831.2" cy="1502.6" r="2.5" fill="#eee3fe"/><circle cx="916.3" cy="1502.6" r="6.5" fill="#ff7a5a"/><circle cx="1001.4" cy="1502.6" r="7.5" fill="#f4ecfe"/><circle cx="1086.5" cy="1502.6" r="7.5" fill="#fdf0eb"/><circle cx="1171.6" cy="1502.6" r="9.5" fill="#fecdb9"/><circle cx="1256.7" cy="1502.6" r="8.5" fill="#eee3fe"/><circle cx="1341.8" cy="1502.6" r="11.7" fill="#e5d5fd"/><circle cx="1426.9" cy="1502.6" r="7.0" fill="#efe5fe"/><circle cx="1512.0" cy="1502.6" r="5.5" fill="#f3ecfe"/><circle cx="1597.1" cy="1502.6" r="4.7" fill="#e4d3fd"/><circle cx="1682.2" cy="1502.6" r="3.9" fill="#e0ccfd"/><circle cx="235.5" cy="1545.2" r="14.5" fill="#fff1ec"/><circle cx="320.6" cy="1545.2" r="9.8" fill="#c7a8fb"/><circle cx="405.7" cy="1545.2" r="7.8" fill="#c9acfb"/><circle cx="490.8" cy="1545.2" r="6.8" fill="#a577f9"/><circle cx="575.9" cy="1545.2" r="10.8" fill="#efe5fe"/><circle cx="661.0" cy="1545.2" r="4.9" fill="#e6d6fd"/><circle cx="746.1" cy="1545.2" r="1.5" fill="#e6d6fd"/><circle cx="831.2" cy="1545.2" r="2.5" fill="#eee3fe"/><circle cx="916.3" cy="1545.2" r="8.5" fill="#ff6a4d"/><circle cx="1001.4" cy="1545.2" r="13.5" fill="#ff0000"/><circle cx="1086.5" cy="1545.2" r="14.0" fill="#ff0000"/><circle cx="1171.6" cy="1545.2" r="13.0" fill="#ff0000"/><circle cx="1256.7" cy="1545.2" r="7.8" fill="#d5bdfc"/><circle cx="1341.8" cy="1545.2" r="11.7" fill="#e1cefd"/><circle cx="1426.9" cy="1545.2" r="6.5" fill="#d4bbfc"/><circle cx="1512.0" cy="1545.2" r="3.9" fill="#ede2fe"/><circle cx="1597.1" cy="1545.2" r="3.9" fill="#e4d3fd"/><circle cx="1682.2" cy="1545.2" r="2.8" fill="#e4d3fd"/><circle cx="235.5" cy="1587.8" r="11.4" fill="#bf9bfb"/><circle cx="320.6" cy="1587.8" r="13.0" fill="#ecdffe"/><circle cx="405.7" cy="1587.8" r="12.5" fill="#e2d0fd"/><circle cx="490.8" cy="1587.8" r="6.8" fill="#d4bcfc"/><circle cx="575.9" cy="1587.8" r="13.2" fill="#ff0000"/><circle cx="661.0" cy="1587.8" r="11.9" fill="#ff0000"/><circle cx="746.1" cy="1587.8" r="5.2" fill="#ff0000"/><circle cx="831.2" cy="1587.8" r="8.8" fill="#ff0000"/><circle cx="916.3" cy="1587.8" r="3.0" fill="#fbf9ff"/><circle cx="1001.4" cy="1587.8" r="6.0" fill="#f6f0ff"/><circle cx="1086.5" cy="1587.8" r="4.0" fill="#f3ecfe"/><circle cx="1171.6" cy="1587.8" r="3.5" fill="#e4d3fd"/><circle cx="1256.7" cy="1587.8" r="7.8" fill="#dac6fd"/><circle cx="1341.8" cy="1587.8" r="11.7" fill="#ece1fe"/><circle cx="1426.9" cy="1587.8" r="7.0" fill="#dbc6fd"/><circle cx="1512.0" cy="1587.8" r="4.7" fill="#f0e6fe"/><circle cx="1597.1" cy="1587.8" r="5.5" fill="#e4d3fd"/><circle cx="1682.2" cy="1587.8" r="4.3" fill="#e6d6fd"/><circle cx="235.5" cy="1630.5" r="16.0" fill="#ff7350"/><circle cx="320.6" cy="1630.5" r="15.5" fill="#fff3ef"/><circle cx="405.7" cy="1630.5" r="15.5" fill="#f1e7ff"/><circle cx="490.8" cy="1630.5" r="13.5" fill="#fddbcd"/><circle cx="575.9" cy="1630.5" r="12.5" fill="#fff8f5"/><circle cx="661.0" cy="1630.5" r="4.7" fill="#dac6fd"/><circle cx="746.1" cy="1630.5" r="3.1" fill="#e6d6fd"/><circle cx="831.2" cy="1630.5" r="3.6" fill="#e3d1fd"/><circle cx="916.3" cy="1630.5" r="4.5" fill="#f4eefe"/><circle cx="1001.4" cy="1630.5" r="6.5" fill="#e4d3fd"/><circle cx="1086.5" cy="1630.5" r="2.0" fill="#e6d6fd"/><circle cx="1171.6" cy="1630.5" r="2.5" fill="#e4d3fd"/><circle cx="1256.7" cy="1630.5" r="10.0" fill="#fff6f2"/><circle cx="1341.8" cy="1630.5" r="15.5" fill="#ff6a4b"/><circle cx="1426.9" cy="1630.5" r="8.5" fill="#fffafa"/><circle cx="1512.0" cy="1630.5" r="2.8" fill="#e6d6fd"/><circle cx="1597.1" cy="1630.5" r="10.0" fill="#efe5fe"/><circle cx="1682.2" cy="1630.5" r="5.9" fill="#e9dcfe"/><circle cx="235.5" cy="1673.1" r="13.0" fill="#bb96fb"/><circle cx="320.6" cy="1673.1" r="16.0" fill="#fde5dc"/><circle cx="405.7" cy="1673.1" r="16.0" fill="#fde1d6"/><circle cx="490.8" cy="1673.1" r="11.4" fill="#f8f5ff"/><circle cx="575.9" cy="1673.1" r="11.4" fill="#e2d0fd"/><circle cx="661.0" cy="1673.1" r="4.7" fill="#d8c2fc"/><circle cx="746.1" cy="1673.1" r="2.6" fill="#e3d1fd"/><circle cx="831.2" cy="1673.1" r="2.6" fill="#ede2fe"/><circle cx="916.3" cy="1673.1" r="2.0" fill="#e1cdfd"/><circle cx="1001.4" cy="1673.1" r="2.5" fill="#dcc6fd"/><circle cx="1086.5" cy="1673.1" r="2.0" fill="#f0e6fe"/><circle cx="1171.6" cy="1673.1" r="3.0" fill="#e6d6fd"/><circle cx="1256.7" cy="1673.1" r="8.5" fill="#d2b8fc"/><circle cx="1341.8" cy="1673.1" r="13.2" fill="#e2d0fd"/><circle cx="1426.9" cy="1673.1" r="7.5" fill="#dbc6fd"/><circle cx="1512.0" cy="1673.1" r="2.8" fill="#eadefe"/><circle cx="1597.1" cy="1673.1" r="7.0" fill="#e4d3fd"/><circle cx="1682.2" cy="1673.1" r="5.9" fill="#e4d3fd"/><circle cx="235.5" cy="1715.7" r="11.4" fill="#fefefe"/><circle cx="320.6" cy="1715.7" r="9.3" fill="#fcc4b0"/><circle cx="405.7" cy="1715.7" r="8.3" fill="#fef0eb"/><circle cx="490.8" cy="1715.7" r="5.2" fill="#ff8b6a"/><circle cx="575.9" cy="1715.7" r="3.6" fill="#eee3fe"/><circle cx="661.0" cy="1715.7" r="2.6" fill="#efe6fe"/><circle cx="746.1" cy="1715.7" r="1.6" fill="#d8c4fc"/><circle cx="831.2" cy="1715.7" r="2.6" fill="#f9f6ff"/><circle cx="916.3" cy="1715.7" r="2.5" fill="#e9dcfe"/><circle cx="1001.4" cy="1715.7" r="2.5" fill="#efe5fe"/><circle cx="1086.5" cy="1715.7" r="2.5" fill="#f0e6fe"/><circle cx="1171.6" cy="1715.7" r="2.5" fill="#faf7ff"/><circle cx="1256.7" cy="1715.7" r="3.9" fill="#fee3da"/><circle cx="1341.8" cy="1715.7" r="3.9" fill="#f8f4ff"/><circle cx="1426.9" cy="1715.7" r="3.9" fill="#f8f4ff"/><circle cx="1512.0" cy="1715.7" r="3.0" fill="#fcfaff"/><circle cx="1597.1" cy="1715.7" r="4.7" fill="#fbf9ff"/><circle cx="1682.2" cy="1715.7" r="2.4" fill="#fefeff"/><circle cx="235.5" cy="1758.3" r="14.5" fill="#ff4a2a"/><circle cx="320.6" cy="1758.3" r="16.5" fill="#ff0000"/><circle cx="405.7" cy="1758.3" r="16.5" fill="#ff0000"/><circle cx="490.8" cy="1758.3" r="14.5" fill="#fee4da"/><circle cx="575.9" cy="1758.3" r="11.4" fill="#e4d3fd"/><circle cx="661.0" cy="1758.3" r="8.8" fill="#eadcfe"/><circle cx="746.1" cy="1758.3" r="3.6" fill="#faf7ff"/><circle cx="831.2" cy="1758.3" r="7.8" fill="#f8f4ff"/><circle cx="916.3" cy="1758.3" r="2.5" fill="#dac6fd"/><circle cx="1001.4" cy="1758.3" r="6.5" fill="#eadefe"/><circle cx="1086.5" cy="1758.3" r="3.0" fill="#eadefe"/><circle cx="1171.6" cy="1758.3" r="3.5" fill="#e4d3fd"/><circle cx="1256.7" cy="1758.3" r="8.5" fill="#c9abfb"/><circle cx="1341.8" cy="1758.3" r="12.5" fill="#a172fa"/><circle cx="1426.9" cy="1758.3" r="6.5" fill="#c6a6fb"/><circle cx="1512.0" cy="1758.3" r="4.3" fill="#e9dcfe"/><circle cx="1597.1" cy="1758.3" r="2.4" fill="#e4d3fd"/><circle cx="1682.2" cy="1758.3" r="1.9" fill="#d8c4fc"/><circle cx="235.5" cy="1800.9" r="13.0" fill="#fde9e1"/><circle cx="320.6" cy="1800.9" r="14.5" fill="#fddfd3"/><circle cx="405.7" cy="1800.9" r="14.5" fill="#fee6dd"/><circle cx="490.8" cy="1800.9" r="13.0" fill="#ff8c6a"/><circle cx="575.9" cy="1800.9" r="11.4" fill="#f7f2ff"/><circle cx="661.0" cy="1800.9" r="6.2" fill="#ebdffe"/><circle cx="746.1" cy="1800.9" r="3.6" fill="#fefdff"/><circle cx="831.2" cy="1800.9" r="3.6" fill="#ede2fe"/><circle cx="916.3" cy="1800.9" r="2.5" fill="#e2cffd"/><circle cx="1001.4" cy="1800.9" r="5.0" fill="#ebdffe"/><circle cx="1086.5" cy="1800.9" r="2.5" fill="#eee3fe"/><circle cx="1171.6" cy="1800.9" r="3.0" fill="#e8dafe"/><circle cx="1256.7" cy="1800.9" r="6.5" fill="#d9c4fd"/><circle cx="1341.8" cy="1800.9" r="10.5" fill="#d9c4fd"/><circle cx="1426.9" cy="1800.9" r="5.9" fill="#d9c4fd"/><circle cx="1512.0" cy="1800.9" r="3.4" fill="#efe5fe"/><circle cx="1597.1" cy="1800.9" r="3.9" fill="#e4d3fd"/><circle cx="1682.2" cy="1800.9" r="3.1" fill="#e4d3fd"/></g>
<line x1="184.6" y1="1264" x2="184.6" y2="1827.5" stroke="#000" stroke-width="2.4" />
<line x1="184.5" y1="1826.3" x2="1736" y2="1826.3" stroke="#000" stroke-width="2.2" />
<line x1="176.4" y1="1289.5" x2="184.6" y2="1289.5" stroke="#000" stroke-width="2.4" />
<line x1="176.4" y1="1332.12" x2="184.6" y2="1332.12" stroke="#000" stroke-width="2.4" />
<line x1="176.4" y1="1374.74" x2="184.6" y2="1374.74" stroke="#000" stroke-width="2.4" />
<line x1="176.4" y1="1417.36" x2="184.6" y2="1417.36" stroke="#000" stroke-width="2.4" />
<line x1="176.4" y1="1459.98" x2="184.6" y2="1459.98" stroke="#000" stroke-width="2.4" />
<line x1="176.4" y1="1502.6" x2="184.6" y2="1502.6" stroke="#000" stroke-width="2.4" />
<line x1="176.4" y1="1545.22" x2="184.6" y2="1545.22" stroke="#000" stroke-width="2.4" />
<line x1="176.4" y1="1587.84" x2="184.6" y2="1587.84" stroke="#000" stroke-width="2.4" />
<line x1="176.4" y1="1630.46" x2="184.6" y2="1630.46" stroke="#000" stroke-width="2.4" />
<line x1="176.4" y1="1673.08" x2="184.6" y2="1673.08" stroke="#000" stroke-width="2.4" />
<line x1="176.4" y1="1715.7" x2="184.6" y2="1715.7" stroke="#000" stroke-width="2.4" />
<line x1="176.4" y1="1758.32" x2="184.6" y2="1758.32" stroke="#000" stroke-width="2.4" />
<line x1="176.4" y1="1800.94" x2="184.6" y2="1800.94" stroke="#000" stroke-width="2.4" />
<line x1="235.5" y1="1826" x2="235.5" y2="1835" stroke="#000" stroke-width="2.2" />
<line x1="320.6" y1="1826" x2="320.6" y2="1835" stroke="#000" stroke-width="2.2" />
<line x1="405.7" y1="1826" x2="405.7" y2="1835" stroke="#000" stroke-width="2.2" />
<line x1="490.79999999999995" y1="1826" x2="490.79999999999995" y2="1835" stroke="#000" stroke-width="2.2" />
<line x1="575.9" y1="1826" x2="575.9" y2="1835" stroke="#000" stroke-width="2.2" />
<line x1="661.0" y1="1826" x2="661.0" y2="1835" stroke="#000" stroke-width="2.2" />
<line x1="746.0999999999999" y1="1826" x2="746.0999999999999" y2="1835" stroke="#000" stroke-width="2.2" />
<line x1="831.1999999999999" y1="1826" x2="831.1999999999999" y2="1835" stroke="#000" stroke-width="2.2" />
<line x1="916.3" y1="1826" x2="916.3" y2="1835" stroke="#000" stroke-width="2.2" />
<line x1="1001.4" y1="1826" x2="1001.4" y2="1835" stroke="#000" stroke-width="2.2" />
<line x1="1086.5" y1="1826" x2="1086.5" y2="1835" stroke="#000" stroke-width="2.2" />
<line x1="1171.6" y1="1826" x2="1171.6" y2="1835" stroke="#000" stroke-width="2.2" />
<line x1="1256.6999999999998" y1="1826" x2="1256.6999999999998" y2="1835" stroke="#000" stroke-width="2.2" />
<line x1="1341.8" y1="1826" x2="1341.8" y2="1835" stroke="#000" stroke-width="2.2" />
<line x1="1426.8999999999999" y1="1826" x2="1426.8999999999999" y2="1835" stroke="#000" stroke-width="2.2" />
<line x1="1512.0" y1="1826" x2="1512.0" y2="1835" stroke="#000" stroke-width="2.2" />
<line x1="1597.1" y1="1826" x2="1597.1" y2="1835" stroke="#000" stroke-width="2.2" />
<line x1="1682.1999999999998" y1="1826" x2="1682.1999999999998" y2="1835" stroke="#000" stroke-width="2.2" />
<text x="169.5" y="1297.3" font-size="30.5" fill="#000" font-weight="normal" text-anchor="end" >2</text>
<text x="169.5" y="1339.9" font-size="30.5" fill="#000" font-weight="normal" text-anchor="end" >4</text>
<text x="169.5" y="1382.5" font-size="30.5" fill="#000" font-weight="normal" text-anchor="end" >1</text>
<text x="169.5" y="1425.2" font-size="30.5" fill="#000" font-weight="normal" text-anchor="end" >3</text>
<text x="169.5" y="1467.8" font-size="30.5" fill="#000" font-weight="normal" text-anchor="end" >10</text>
<text x="169.5" y="1510.4" font-size="30.5" fill="#000" font-weight="normal" text-anchor="end" >7</text>
<text x="169.5" y="1553.0" font-size="30.5" fill="#000" font-weight="normal" text-anchor="end" >6</text>
<text x="169.5" y="1595.6" font-size="30.5" fill="#000" font-weight="normal" text-anchor="end" >5</text>
<text x="169.5" y="1638.3" font-size="30.5" fill="#000" font-weight="normal" text-anchor="end" >12</text>
<text x="169.5" y="1680.9" font-size="30.5" fill="#000" font-weight="normal" text-anchor="end" >11</text>
<text x="169.5" y="1723.5" font-size="30.5" fill="#000" font-weight="normal" text-anchor="end" >9</text>
<text x="169.5" y="1766.1" font-size="30.5" fill="#000" font-weight="normal" text-anchor="end" >8</text>
<text x="169.5" y="1808.7" font-size="30.5" fill="#000" font-weight="normal" text-anchor="end" >0</text>
<text transform="translate(128.5,1500) rotate(-90)" font-size="39" fill="#000" font-weight="normal" text-anchor="middle" >Clusters</text>
<rect x="185.8" y="1605" width="336.49999999999994" height="220.5" fill="none" stroke="#000" stroke-width="4"/>
<rect x="525.5" y="1560" width="340.70000000000005" height="50.5" fill="none" stroke="#000" stroke-width="4"/>
<rect x="866" y="1436.8" width="334.0999999999999" height="126.5" fill="none" stroke="#000" stroke-width="4"/>
<rect x="1200.4" y="1346.1" width="278.0999999999999" height="137.80000000000018" fill="none" stroke="#000" stroke-width="4"/>
<rect x="1478.5" y="1296.4" width="256.70000000000005" height="97.39999999999986" fill="none" stroke="#000" stroke-width="4"/>
<text transform="translate(250.1,1842.5) rotate(-90)" font-size="30.6" fill="#000" font-weight="normal" text-anchor="end" font-style="italic" >NPY</text>
<text transform="translate(335.2,1842.5) rotate(-90)" font-size="30.6" fill="#000" font-weight="normal" text-anchor="end" font-style="italic" >PRPH</text>
<text transform="translate(420.3,1842.5) rotate(-90)" font-size="30.6" fill="#000" font-weight="normal" text-anchor="end" font-style="italic" >GAP43</text>
<text transform="translate(505.4,1842.5) rotate(-90)" font-size="30.6" fill="#000" font-weight="normal" text-anchor="end" font-style="italic" >TFAP2B</text>
<text transform="translate(590.5,1842.5) rotate(-90)" font-size="30.6" fill="#000" font-weight="normal" text-anchor="end" font-style="italic" >CDKN1C</text>
<text transform="translate(675.6,1842.5) rotate(-90)" font-size="30.6" fill="#000" font-weight="normal" text-anchor="end" font-style="italic" >VEGFA</text>
<text transform="translate(760.7,1842.5) rotate(-90)" font-size="30.6" fill="#000" font-weight="normal" text-anchor="end" font-style="italic" >CARTPT</text>
<text transform="translate(845.8,1842.5) rotate(-90)" font-size="30.6" fill="#000" font-weight="normal" text-anchor="end" font-style="italic" >DLK1</text>
<text transform="translate(930.9,1842.5) rotate(-90)" font-size="30.6" fill="#000" font-weight="normal" text-anchor="end" font-style="italic" >HGF</text>
<text transform="translate(1016.0,1842.5) rotate(-90)" font-size="30.6" fill="#000" font-weight="normal" text-anchor="end" font-style="italic" >TIMP3</text>
<text transform="translate(1101.1,1842.5) rotate(-90)" font-size="30.6" fill="#000" font-weight="normal" text-anchor="end" font-style="italic" >FOXC1</text>
<text transform="translate(1186.2,1842.5) rotate(-90)" font-size="30.6" fill="#000" font-weight="normal" text-anchor="end" font-style="italic" >ETV1</text>
<text transform="translate(1271.3,1842.5) rotate(-90)" font-size="30.6" fill="#000" font-weight="normal" text-anchor="end" font-style="italic" >PCNA</text>
<text transform="translate(1356.4,1842.5) rotate(-90)" font-size="30.6" fill="#000" font-weight="normal" text-anchor="end" font-style="italic" >CDK4</text>
<text transform="translate(1441.5,1842.5) rotate(-90)" font-size="30.6" fill="#000" font-weight="normal" text-anchor="end" font-style="italic" >MCM3</text>
<text transform="translate(1526.6,1842.5) rotate(-90)" font-size="30.6" fill="#000" font-weight="normal" text-anchor="end" font-style="italic" >CCNB1</text>
<text transform="translate(1611.7,1842.5) rotate(-90)" font-size="30.6" fill="#000" font-weight="normal" text-anchor="end" font-style="italic" >TOP2A</text>
<text transform="translate(1696.8,1842.5) rotate(-90)" font-size="30.6" fill="#000" font-weight="normal" text-anchor="end" font-style="italic" >MKI67</text>
<line x1="186" y1="1977.8" x2="484" y2="1977.8" stroke="#000" stroke-width="2.4" />
<text x="317.1" y="2010.3" font-size="31" fill="#000" font-weight="bold" text-anchor="middle" >NOR</text>
<text x="312" y="2047" font-size="31" fill="#000" font-weight="bold" text-anchor="middle" >sympathoblast</text>
<line x1="506.4" y1="1977.8" x2="837.2" y2="1977.8" stroke="#000" stroke-width="2.4" />
<text x="674" y="2010.3" font-size="31" fill="#000" font-weight="bold" text-anchor="middle" >NOR</text>
<text x="669.3" y="2047" font-size="31" fill="#000" font-weight="bold" text-anchor="middle" >chromaffin</text>
<line x1="855.3" y1="1977.8" x2="1189" y2="1977.8" stroke="#000" stroke-width="2.4" />
<text x="1025.7" y="2010.3" font-size="31" fill="#000" font-weight="bold" text-anchor="middle" >NOR</text>
<text x="1020.7" y="2047" font-size="31" fill="#000" font-weight="bold" text-anchor="middle" >mesenchymal</text>
<line x1="1200.7" y1="1977.8" x2="1431.2" y2="1977.8" stroke="#000" stroke-width="2.4" />
<text x="1330.5" y="2010.3" font-size="31" fill="#000" font-weight="bold" text-anchor="middle" >Cell cycle</text>
<text x="1330.4" y="2047" font-size="31" fill="#000" font-weight="bold" text-anchor="middle" >S phase</text>
<line x1="1452.6" y1="1977.8" x2="1696.9" y2="1977.8" stroke="#000" stroke-width="2.4" />
<text x="1579.3" y="2010.3" font-size="31" fill="#000" font-weight="bold" text-anchor="middle" >Cell cycle</text>
<text x="1579.8" y="2047" font-size="31" fill="#000" font-weight="bold" text-anchor="middle" >M phase</text>
<text x="1766" y="1334" font-size="31.1" fill="#000" font-weight="normal" text-anchor="start" >Percent expressed</text>
<circle cx="1785" cy="1380.6" r="1.75" fill="#000"/>
<text x="1828.5" y="1393.6" font-size="30" fill="#000" font-weight="normal" text-anchor="start" >0</text>
<circle cx="1785" cy="1418" r="5.85" fill="#000"/>
<text x="1828.5" y="1431" font-size="30" fill="#000" font-weight="normal" text-anchor="start" >25</text>
<circle cx="1785" cy="1454.7" r="9.1" fill="#000"/>
<text x="1828.5" y="1467.7" font-size="30" fill="#000" font-weight="normal" text-anchor="start" >50</text>
<circle cx="1785" cy="1492" r="12.6" fill="#000"/>
<text x="1828.5" y="1505" font-size="30" fill="#000" font-weight="normal" text-anchor="start" >75</text>
<text x="1766" y="1568" font-size="31.1" fill="#000" font-weight="normal" text-anchor="start" >Average expression</text>
<linearGradient id="gav" x1="0" y1="0" x2="0" y2="1"><stop offset="0" stop-color="#ff1a0a"/><stop offset="0.115" stop-color="#ff4a2e"/><stop offset="0.35" stop-color="#fe9a7e"/><stop offset="0.585" stop-color="#ffffff"/><stop offset="0.82" stop-color="#cdb0fc"/><stop offset="1" stop-color="#9b66fd"/></linearGradient>
<rect x="1767.6" y="1593.7" width="35" height="184.5" fill="url(#gav)"/>
<line x1="1767.6" y1="1615.2" x2="1773" y2="1615.2" stroke="#fff" stroke-width="1.2" opacity="0.6"/>
<line x1="1797.2" y1="1615.2" x2="1802.6" y2="1615.2" stroke="#fff" stroke-width="1.2" opacity="0.6"/>
<text x="1832" y="1626.0" font-size="30" fill="#000" font-weight="normal" text-anchor="start" >2</text>
<line x1="1767.6" y1="1658.6" x2="1773" y2="1658.6" stroke="#fff" stroke-width="1.2" opacity="0.6"/>
<line x1="1797.2" y1="1658.6" x2="1802.6" y2="1658.6" stroke="#fff" stroke-width="1.2" opacity="0.6"/>
<text x="1832" y="1669.4" font-size="30" fill="#000" font-weight="normal" text-anchor="start" >1</text>
<line x1="1767.6" y1="1702.3" x2="1773" y2="1702.3" stroke="#fff" stroke-width="1.2" opacity="0.6"/>
<line x1="1797.2" y1="1702.3" x2="1802.6" y2="1702.3" stroke="#fff" stroke-width="1.2" opacity="0.6"/>
<text x="1832" y="1713.1" font-size="30" fill="#000" font-weight="normal" text-anchor="start" >0</text>
<line x1="1767.6" y1="1746.7" x2="1773" y2="1746.7" stroke="#fff" stroke-width="1.2" opacity="0.6"/>
<line x1="1797.2" y1="1746.7" x2="1802.6" y2="1746.7" stroke="#fff" stroke-width="1.2" opacity="0.6"/>
<text x="1832" y="1757.5" font-size="30" fill="#000" font-weight="normal" text-anchor="start" >-1</text>
<text x="0" y="2094.6" font-size="46" fill="#000" font-weight="bold" text-anchor="start" >D</text>
<text x="73.8" y="2163.4" font-size="38.9" fill="#000" font-weight="normal" text-anchor="start" >Integration 18 biopsies</text>
<text x="608.8" y="2163" font-size="38.9" fill="#000" font-weight="normal" text-anchor="start" >Integration 15 PDXs</text>
<text x="1171.8" y="2155.4" font-size="38.9" fill="#000" font-weight="normal" text-anchor="start" >IC-pPDXC-63</text>
<text x="1609" y="2156.4" font-size="38.9">Integration Jansky <tspan font-style="italic">et al.</tspan></text>
<line x1="79.4" y1="2491.9" x2="79.4" y2="2315.7" stroke="#000" stroke-width="2.2" />
<polygon points="67.9,2316.7 90.9,2316.7 79.4,2293.7" fill="#000"/>
<line x1="78.30000000000001" y1="2490.8" x2="252.10000000000002" y2="2490.8" stroke="#000" stroke-width="2.2" />
<polygon points="251.10000000000002,2479.3 251.10000000000002,2502.3 274.1,2490.8" fill="#000"/>
<text transform="translate(47.5,2390) rotate(-90)" font-size="30.5" fill="#000" font-weight="normal" text-anchor="middle" >Umap.harmony-2</text>
<text x="59" y="2533.3" font-size="30.5" fill="#000" font-weight="normal" text-anchor="start" >Umap.harmony-1</text>
<line x1="563.4" y1="2487.6" x2="563.4" y2="2310.7" stroke="#000" stroke-width="2.2" />
<polygon points="551.9,2311.7 574.9,2311.7 563.4,2288.7" fill="#000"/>
<line x1="562.3" y1="2486.5" x2="736.1" y2="2486.5" stroke="#000" stroke-width="2.2" />
<polygon points="735.1,2475.0 735.1,2498.0 758.1,2486.5" fill="#000"/>
<text transform="translate(532,2387) rotate(-90)" font-size="30.5" fill="#000" font-weight="normal" text-anchor="middle" >Umap.harmony-2</text>
<text x="543" y="2529" font-size="30.5" fill="#000" font-weight="normal" text-anchor="start" >Umap.harmony-1</text>
<line x1="1069.8" y1="2492.1" x2="1069.8" y2="2316" stroke="#000" stroke-width="2.2" />
<polygon points="1058.3,2317 1081.3,2317 1069.8,2294" fill="#000"/>
<line x1="1068.7" y1="2491" x2="1242.2" y2="2491" stroke="#000" stroke-width="2.2" />
<polygon points="1241.2,2479.5 1241.2,2502.5 1264.2,2491" fill="#000"/>
<text transform="translate(1047.5,2438.5) rotate(-90)" font-size="30.5" fill="#000" font-weight="normal" text-anchor="middle" >Umap-2</text>
<text x="1077.5" y="2533.8" font-size="30.5" fill="#000" font-weight="normal" text-anchor="start" >Umap-1</text>
<line x1="1567" y1="2492.4" x2="1567" y2="2316" stroke="#000" stroke-width="2.2" />
<polygon points="1555.5,2317 1578.5,2317 1567,2294" fill="#000"/>
<line x1="1565.9" y1="2491.3" x2="1740" y2="2491.3" stroke="#000" stroke-width="2.2" />
<polygon points="1739,2479.8 1739,2502.8 1762,2491.3" fill="#000"/>
<text transform="translate(1545,2439) rotate(-90)" font-size="30.5" fill="#000" font-weight="normal" text-anchor="middle" >Umap-2</text>
<text x="1575" y="2533.5" font-size="30.5" fill="#000" font-weight="normal" text-anchor="start" >Umap-1</text>
<path d="M103.4,2293.7 C105.4,2285.2 109.6,2269.7 113.8,2263.7 C118.0,2257.7 122.8,2256.7 128.8,2257.7 C134.8,2258.7 141.3,2270.7 149.8,2269.7 C158.3,2268.7 169.7,2255.7 179.7,2251.7 C189.7,2247.7 201.7,2246.7 209.7,2245.7 C217.7,2244.7 222.7,2246.7 227.7,2245.7 C232.7,2244.7 234.2,2242.2 239.7,2239.7 C245.2,2237.2 252.6,2234.8 260.6,2230.8 C268.6,2226.8 280.9,2217.1 287.6,2215.8 C294.3,2214.6 299.5,2214.3 301.0,2223.3 C302.5,2232.3 294.3,2260.0 296.6,2269.7 C298.9,2279.4 312.1,2275.2 314.6,2281.7 C317.1,2288.2 308.1,2301.7 311.6,2308.7 C315.1,2315.7 327.5,2318.1 335.5,2323.6 C343.5,2329.1 351.5,2337.6 359.5,2341.6 C367.5,2345.6 377.5,2347.1 383.5,2347.6 C389.5,2348.1 388.4,2345.6 395.4,2344.6 C402.4,2343.6 414.9,2340.1 425.4,2341.6 C435.9,2343.1 451.6,2349.1 458.4,2353.6 C465.1,2358.1 465.9,2361.6 465.9,2368.6 C465.9,2375.6 462.1,2385.5 458.4,2395.5 C454.6,2405.5 448.9,2419.5 443.4,2428.5 C437.9,2437.5 433.4,2443.5 425.4,2449.5 C417.4,2455.5 406.4,2461.4 395.4,2464.4 C384.4,2467.4 370.5,2467.9 359.5,2467.4 C348.5,2466.9 339.5,2464.4 329.5,2461.4 C319.5,2458.4 309.6,2448.5 299.6,2449.5 C289.6,2450.5 281.6,2462.9 269.6,2467.4 C257.6,2471.9 239.7,2476.4 227.7,2476.4 C215.7,2476.4 205.7,2472.4 197.7,2467.4 C189.7,2462.4 187.7,2452.0 179.7,2446.5 C171.7,2441.0 155.8,2441.5 149.8,2434.5 C143.8,2427.5 148.8,2415.0 143.8,2404.5 C138.8,2394.0 126.3,2382.1 119.8,2371.6 C113.3,2361.1 107.9,2351.1 104.9,2341.6 C101.9,2332.1 102.2,2322.6 101.9,2314.6 C101.7,2306.6 101.4,2302.2 103.4,2293.7Z" fill="#dcecef" />
<path d="M377,2297 Q400,2315 422,2332" stroke="#9cc0e6" stroke-width="5" fill="none"/>
<clipPath id="cpd1"><path d="M103.4,2293.7 C105.4,2285.2 109.6,2269.7 113.8,2263.7 C118.0,2257.7 122.8,2256.7 128.8,2257.7 C134.8,2258.7 141.3,2270.7 149.8,2269.7 C158.3,2268.7 169.7,2255.7 179.7,2251.7 C189.7,2247.7 201.7,2246.7 209.7,2245.7 C217.7,2244.7 222.7,2246.7 227.7,2245.7 C232.7,2244.7 234.2,2242.2 239.7,2239.7 C245.2,2237.2 252.6,2234.8 260.6,2230.8 C268.6,2226.8 280.9,2217.1 287.6,2215.8 C294.3,2214.6 299.5,2214.3 301.0,2223.3 C302.5,2232.3 294.3,2260.0 296.6,2269.7 C298.9,2279.4 312.1,2275.2 314.6,2281.7 C317.1,2288.2 308.1,2301.7 311.6,2308.7 C315.1,2315.7 327.5,2318.1 335.5,2323.6 C343.5,2329.1 351.5,2337.6 359.5,2341.6 C367.5,2345.6 377.5,2347.1 383.5,2347.6 C389.5,2348.1 388.4,2345.6 395.4,2344.6 C402.4,2343.6 414.9,2340.1 425.4,2341.6 C435.9,2343.1 451.6,2349.1 458.4,2353.6 C465.1,2358.1 465.9,2361.6 465.9,2368.6 C465.9,2375.6 462.1,2385.5 458.4,2395.5 C454.6,2405.5 448.9,2419.5 443.4,2428.5 C437.9,2437.5 433.4,2443.5 425.4,2449.5 C417.4,2455.5 406.4,2461.4 395.4,2464.4 C384.4,2467.4 370.5,2467.9 359.5,2467.4 C348.5,2466.9 339.5,2464.4 329.5,2461.4 C319.5,2458.4 309.6,2448.5 299.6,2449.5 C289.6,2450.5 281.6,2462.9 269.6,2467.4 C257.6,2471.9 239.7,2476.4 227.7,2476.4 C215.7,2476.4 205.7,2472.4 197.7,2467.4 C189.7,2462.4 187.7,2452.0 179.7,2446.5 C171.7,2441.0 155.8,2441.5 149.8,2434.5 C143.8,2427.5 148.8,2415.0 143.8,2404.5 C138.8,2394.0 126.3,2382.1 119.8,2371.6 C113.3,2361.1 107.9,2351.1 104.9,2341.6 C101.9,2332.1 102.2,2322.6 101.9,2314.6 C101.7,2306.6 101.4,2302.2 103.4,2293.7Z"/></clipPath>
<g clip-path="url(#cpd1)"><rect x="95" y="2210" width="380" height="270" fill="#6a8ee0" filter="url(#spk)" opacity="0.55"/></g>
<g clip-path="url(#cpd1)">
<ellipse cx="282" cy="2252" rx="24" ry="36" fill="url(#gblu)" opacity="0.9"/>
<ellipse cx="300" cy="2280" rx="25" ry="20" fill="url(#gblu)" opacity="0.5"/>
<ellipse cx="395" cy="2395" rx="65" ry="45" fill="url(#gpur2)" opacity="0.3"/>
<ellipse cx="443" cy="2370" rx="16" ry="30" fill="url(#gpur2)" opacity="0.55"/>
<ellipse cx="405" cy="2352" rx="12" ry="8" fill="url(#gpur2)" opacity="0.6"/>
<ellipse cx="365" cy="2377" rx="22" ry="14" fill="url(#gpur2)" opacity="0.6"/>
<ellipse cx="375" cy="2382" rx="22" ry="16" fill="url(#gpur2)" opacity="0.8"/>
<ellipse cx="250" cy="2320" rx="14" ry="40" fill="url(#gpur2)" opacity="0.5"/>
<ellipse cx="200" cy="2300" rx="40" ry="40" fill="url(#gblu)" opacity="0.35"/>
<ellipse cx="140" cy="2330" rx="40" ry="50" fill="url(#glig)" opacity="0.8"/>
<ellipse cx="180" cy="2430" rx="50" ry="30" fill="url(#glig)" opacity="0.6"/>
<ellipse cx="246" cy="2262" rx="24" ry="24" fill="url(#gpur)" opacity="1"/>
</g>
<path d="M606.8,2309.7 C607.8,2300.2 612.3,2291.7 618.8,2282.7 C625.3,2273.7 636.3,2264.3 645.8,2255.8 C655.3,2247.3 663.7,2237.3 675.7,2231.8 C687.7,2226.3 703.7,2225.3 717.7,2222.8 C731.7,2220.3 747.6,2218.8 759.6,2216.8 C771.6,2214.8 779.6,2213.3 789.6,2210.8 C799.6,2208.3 807.0,2205.1 819.5,2201.9 C832.0,2198.7 850.5,2192.9 864.5,2191.4 C878.5,2189.9 892.9,2196.2 903.4,2192.9 C913.9,2189.7 922.4,2170.9 927.4,2171.9 C932.4,2172.9 927.9,2191.9 933.4,2198.9 C938.9,2205.9 954.8,2207.3 960.3,2213.8 C965.8,2220.3 966.3,2228.8 966.3,2237.8 C966.3,2246.8 962.8,2255.8 960.3,2267.8 C957.8,2279.8 954.9,2298.2 951.4,2309.7 C947.9,2321.2 945.4,2330.2 939.4,2336.7 C933.4,2343.2 921.4,2341.7 915.4,2348.7 C909.4,2355.7 909.4,2370.1 903.4,2378.6 C897.4,2387.1 888.5,2392.1 879.5,2399.6 C870.5,2407.1 859.5,2417.5 849.5,2423.5 C839.5,2429.5 829.5,2433.5 819.5,2435.5 C809.5,2437.5 797.6,2438.0 789.6,2435.5 C781.6,2433.0 777.6,2424.5 771.6,2420.5 C765.6,2416.5 760.6,2412.6 753.6,2411.6 C746.6,2410.6 736.7,2407.6 729.7,2414.6 C722.7,2421.6 716.7,2446.0 711.7,2453.5 C706.7,2461.0 705.7,2462.0 699.7,2459.5 C693.7,2457.0 680.7,2444.0 675.7,2438.5 C670.7,2433.0 668.7,2430.0 669.7,2426.5 C670.7,2423.0 683.7,2424.1 681.7,2417.6 C679.7,2411.1 665.8,2396.6 657.8,2387.6 C649.8,2378.6 641.3,2371.6 633.8,2363.6 C626.3,2355.6 617.3,2348.7 612.8,2339.7 C608.3,2330.7 605.8,2319.2 606.8,2309.7Z" fill="#c6e2f0" />
<clipPath id="cpd2"><path d="M606.8,2309.7 C607.8,2300.2 612.3,2291.7 618.8,2282.7 C625.3,2273.7 636.3,2264.3 645.8,2255.8 C655.3,2247.3 663.7,2237.3 675.7,2231.8 C687.7,2226.3 703.7,2225.3 717.7,2222.8 C731.7,2220.3 747.6,2218.8 759.6,2216.8 C771.6,2214.8 779.6,2213.3 789.6,2210.8 C799.6,2208.3 807.0,2205.1 819.5,2201.9 C832.0,2198.7 850.5,2192.9 864.5,2191.4 C878.5,2189.9 892.9,2196.2 903.4,2192.9 C913.9,2189.7 922.4,2170.9 927.4,2171.9 C932.4,2172.9 927.9,2191.9 933.4,2198.9 C938.9,2205.9 954.8,2207.3 960.3,2213.8 C965.8,2220.3 966.3,2228.8 966.3,2237.8 C966.3,2246.8 962.8,2255.8 960.3,2267.8 C957.8,2279.8 954.9,2298.2 951.4,2309.7 C947.9,2321.2 945.4,2330.2 939.4,2336.7 C933.4,2343.2 921.4,2341.7 915.4,2348.7 C909.4,2355.7 909.4,2370.1 903.4,2378.6 C897.4,2387.1 888.5,2392.1 879.5,2399.6 C870.5,2407.1 859.5,2417.5 849.5,2423.5 C839.5,2429.5 829.5,2433.5 819.5,2435.5 C809.5,2437.5 797.6,2438.0 789.6,2435.5 C781.6,2433.0 777.6,2424.5 771.6,2420.5 C765.6,2416.5 760.6,2412.6 753.6,2411.6 C746.6,2410.6 736.7,2407.6 729.7,2414.6 C722.7,2421.6 716.7,2446.0 711.7,2453.5 C706.7,2461.0 705.7,2462.0 699.7,2459.5 C693.7,2457.0 680.7,2444.0 675.7,2438.5 C670.7,2433.0 668.7,2430.0 669.7,2426.5 C670.7,2423.0 683.7,2424.1 681.7,2417.6 C679.7,2411.1 665.8,2396.6 657.8,2387.6 C649.8,2378.6 641.3,2371.6 633.8,2363.6 C626.3,2355.6 617.3,2348.7 612.8,2339.7 C608.3,2330.7 605.8,2319.2 606.8,2309.7Z"/></clipPath>
<g clip-path="url(#cpd2)"><rect x="600" y="2170" width="370" height="300" fill="#5b86dc" filter="url(#spk)" opacity="0.55"/>
<ellipse cx="710" cy="2420" rx="45" ry="40" fill="url(#glig)" opacity="0.9"/>
<ellipse cx="792" cy="2262" rx="55" ry="40" fill="url(#gwht)" opacity="0.75"/>
<ellipse cx="925" cy="2262" rx="40" ry="60" fill="url(#gblu)" opacity="0.7"/>
<ellipse cx="660" cy="2270" rx="25" ry="25" fill="url(#gblu)" opacity="0.5"/>
<ellipse cx="800" cy="2395" rx="50" ry="35" fill="url(#gblu)" opacity="0.35"/>
<ellipse cx="740" cy="2330" rx="35" ry="10" fill="url(#gpur)" opacity="0.55" transform="rotate(8 740 2330)"/>
<ellipse cx="795" cy="2335" rx="28" ry="10" fill="url(#gpur)" opacity="0.75" transform="rotate(-8 795 2335)"/>
<ellipse cx="705" cy="2313" rx="12" ry="8" fill="url(#gpur)" opacity="0.6"/>
</g>
<path d="M1098.9,2378.6 C1097.9,2373.6 1098.4,2368.1 1104.9,2363.6 C1111.4,2359.1 1128.3,2356.2 1137.8,2351.7 C1147.3,2347.2 1154.8,2339.4 1161.8,2336.7 C1168.8,2333.9 1171.7,2333.2 1179.7,2335.2 C1187.7,2337.2 1199.7,2345.9 1209.7,2348.7 C1219.7,2351.4 1230.7,2352.2 1239.7,2351.7 C1248.7,2351.2 1256.6,2347.7 1263.6,2345.7 C1270.6,2343.7 1276.1,2342.7 1281.6,2339.7 C1287.1,2336.7 1290.6,2333.7 1296.6,2327.7 C1302.6,2321.7 1311.6,2310.7 1317.6,2303.7 C1323.6,2296.7 1330.0,2298.7 1332.5,2285.7 C1335.0,2272.7 1329.0,2237.8 1332.5,2225.8 C1336.0,2213.8 1348.0,2218.3 1353.5,2213.8 C1359.0,2209.3 1360.0,2202.4 1365.5,2198.9 C1371.0,2195.4 1377.5,2193.4 1386.5,2192.9 C1395.5,2192.4 1403.9,2194.9 1419.4,2195.9 C1434.9,2196.9 1468.3,2195.9 1479.3,2198.9 C1490.3,2201.9 1485.3,2207.3 1485.3,2213.8 C1485.3,2220.3 1479.8,2227.8 1479.3,2237.8 C1478.8,2247.8 1482.8,2261.8 1482.3,2273.8 C1481.8,2285.8 1481.8,2302.7 1476.3,2309.7 C1470.8,2316.7 1458.9,2312.7 1449.4,2315.7 C1439.9,2318.7 1425.4,2320.7 1419.4,2327.7 C1413.4,2334.7 1415.4,2350.6 1413.4,2357.6 C1411.4,2364.6 1410.9,2369.1 1407.4,2369.6 C1403.9,2370.1 1395.5,2364.6 1392.5,2360.6 C1389.5,2356.6 1395.0,2350.2 1389.5,2345.7 C1384.0,2341.2 1369.5,2336.7 1359.5,2333.7 C1349.5,2330.7 1339.5,2325.7 1329.5,2327.7 C1319.5,2329.7 1307.1,2338.7 1299.6,2345.7 C1292.1,2352.7 1290.6,2362.6 1284.6,2369.6 C1278.6,2376.6 1271.1,2382.6 1263.6,2387.6 C1256.1,2392.6 1245.7,2394.6 1239.7,2399.6 C1233.7,2404.6 1230.7,2411.1 1227.7,2417.6 C1224.7,2424.1 1224.7,2433.0 1221.7,2438.5 C1218.7,2444.0 1215.7,2447.0 1209.7,2450.5 C1203.7,2454.0 1194.2,2461.0 1185.7,2459.5 C1177.2,2458.0 1166.3,2448.5 1158.8,2441.5 C1151.3,2434.5 1145.3,2424.6 1140.8,2417.6 C1136.3,2410.6 1136.8,2403.6 1131.8,2399.6 C1126.8,2395.6 1116.3,2397.1 1110.8,2393.6 C1105.3,2390.1 1099.9,2383.6 1098.9,2378.6Z" fill="#dcecef" />
<clipPath id="cpd3"><path d="M1098.9,2378.6 C1097.9,2373.6 1098.4,2368.1 1104.9,2363.6 C1111.4,2359.1 1128.3,2356.2 1137.8,2351.7 C1147.3,2347.2 1154.8,2339.4 1161.8,2336.7 C1168.8,2333.9 1171.7,2333.2 1179.7,2335.2 C1187.7,2337.2 1199.7,2345.9 1209.7,2348.7 C1219.7,2351.4 1230.7,2352.2 1239.7,2351.7 C1248.7,2351.2 1256.6,2347.7 1263.6,2345.7 C1270.6,2343.7 1276.1,2342.7 1281.6,2339.7 C1287.1,2336.7 1290.6,2333.7 1296.6,2327.7 C1302.6,2321.7 1311.6,2310.7 1317.6,2303.7 C1323.6,2296.7 1330.0,2298.7 1332.5,2285.7 C1335.0,2272.7 1329.0,2237.8 1332.5,2225.8 C1336.0,2213.8 1348.0,2218.3 1353.5,2213.8 C1359.0,2209.3 1360.0,2202.4 1365.5,2198.9 C1371.0,2195.4 1377.5,2193.4 1386.5,2192.9 C1395.5,2192.4 1403.9,2194.9 1419.4,2195.9 C1434.9,2196.9 1468.3,2195.9 1479.3,2198.9 C1490.3,2201.9 1485.3,2207.3 1485.3,2213.8 C1485.3,2220.3 1479.8,2227.8 1479.3,2237.8 C1478.8,2247.8 1482.8,2261.8 1482.3,2273.8 C1481.8,2285.8 1481.8,2302.7 1476.3,2309.7 C1470.8,2316.7 1458.9,2312.7 1449.4,2315.7 C1439.9,2318.7 1425.4,2320.7 1419.4,2327.7 C1413.4,2334.7 1415.4,2350.6 1413.4,2357.6 C1411.4,2364.6 1410.9,2369.1 1407.4,2369.6 C1403.9,2370.1 1395.5,2364.6 1392.5,2360.6 C1389.5,2356.6 1395.0,2350.2 1389.5,2345.7 C1384.0,2341.2 1369.5,2336.7 1359.5,2333.7 C1349.5,2330.7 1339.5,2325.7 1329.5,2327.7 C1319.5,2329.7 1307.1,2338.7 1299.6,2345.7 C1292.1,2352.7 1290.6,2362.6 1284.6,2369.6 C1278.6,2376.6 1271.1,2382.6 1263.6,2387.6 C1256.1,2392.6 1245.7,2394.6 1239.7,2399.6 C1233.7,2404.6 1230.7,2411.1 1227.7,2417.6 C1224.7,2424.1 1224.7,2433.0 1221.7,2438.5 C1218.7,2444.0 1215.7,2447.0 1209.7,2450.5 C1203.7,2454.0 1194.2,2461.0 1185.7,2459.5 C1177.2,2458.0 1166.3,2448.5 1158.8,2441.5 C1151.3,2434.5 1145.3,2424.6 1140.8,2417.6 C1136.3,2410.6 1136.8,2403.6 1131.8,2399.6 C1126.8,2395.6 1116.3,2397.1 1110.8,2393.6 C1105.3,2390.1 1099.9,2383.6 1098.9,2378.6Z"/></clipPath>
<g clip-path="url(#cpd3)"><rect x="1095" y="2190" width="395" height="275" fill="#ffffff" filter="url(#spk2)" opacity="0.6"/><rect x="1095" y="2190" width="395" height="275" fill="#6a90dc" filter="url(#spk3)" opacity="0.55"/>
<ellipse cx="1180" cy="2385" rx="80" ry="60" fill="url(#gblu)" opacity="1"/>
<ellipse cx="1190" cy="2375" rx="55" ry="35" fill="url(#gblu)" opacity="0.8"/>
<ellipse cx="1280" cy="2355" rx="30" ry="18" fill="url(#gblu)" opacity="0.8"/>
<ellipse cx="1195" cy="2358" rx="60" ry="22" fill="url(#gpur)" opacity="0.7"/>
<ellipse cx="1140" cy="2370" rx="30" ry="20" fill="url(#gpur2)" opacity="0.6"/>
<ellipse cx="1260" cy="2352" rx="25" ry="10" fill="url(#gpur)" opacity="0.5"/>
<ellipse cx="1140" cy="2370" rx="20" ry="15" fill="url(#gpur2)" opacity="0.6"/>
<ellipse cx="1170" cy="2430" rx="30" ry="25" fill="url(#glig)" opacity="0.6"/>
<ellipse cx="1420" cy="2240" rx="50" ry="40" fill="url(#gblu)" opacity="0.3"/>
</g>
<path d="M1609.8,2318.6 C1611.9,2314.9 1623.8,2310.8 1630.4,2306.0 C1637.0,2301.2 1645.7,2300.6 1649.4,2290.0 C1653.1,2279.4 1652.6,2255.3 1652.6,2242.6 C1652.6,2229.9 1647.3,2220.3 1649.4,2214.0 C1651.5,2207.7 1656.9,2206.7 1665.3,2204.6 C1673.7,2202.5 1687.9,2201.9 1700.0,2201.4 C1712.1,2200.9 1729.5,2198.2 1738.0,2201.4 C1746.5,2204.6 1746.5,2213.0 1750.8,2220.4 C1755.0,2227.8 1757.7,2246.9 1763.5,2245.8 C1769.3,2244.7 1777.8,2221.9 1785.7,2214.0 C1793.6,2206.1 1798.9,2200.8 1811.0,2198.2 C1823.1,2195.6 1846.3,2198.7 1858.5,2198.2 C1870.7,2197.7 1879.4,2191.8 1883.9,2195.0 C1888.4,2198.2 1886.5,2209.8 1885.5,2217.2 C1884.5,2224.6 1873.6,2233.6 1877.6,2239.4 C1881.5,2245.2 1904.5,2247.2 1909.2,2252.0 C1913.9,2256.8 1910.2,2261.7 1906.0,2268.0 C1901.8,2274.3 1886.5,2284.2 1883.9,2290.0 C1881.3,2295.8 1886.5,2296.5 1890.2,2302.8 C1893.9,2309.1 1906.0,2321.7 1906.0,2328.0 C1906.0,2334.3 1894.9,2333.9 1890.2,2340.8 C1885.5,2347.7 1877.6,2360.3 1877.6,2369.3 C1877.6,2378.3 1890.2,2386.8 1890.2,2394.7 C1890.2,2402.6 1881.3,2406.9 1877.6,2416.9 C1873.9,2426.9 1872.2,2449.1 1868.0,2454.9 C1863.8,2460.7 1859.0,2453.3 1852.2,2451.7 C1845.4,2450.1 1833.2,2442.2 1826.9,2445.4 C1820.6,2448.6 1821.1,2467.0 1814.2,2470.7 C1807.3,2474.4 1791.0,2466.0 1785.7,2467.6 C1780.4,2469.2 1785.7,2479.1 1782.5,2480.2 C1779.3,2481.2 1769.9,2477.6 1766.7,2473.9 C1763.5,2470.2 1768.3,2461.2 1763.5,2458.0 C1758.7,2454.8 1746.5,2458.1 1738.0,2454.9 C1729.5,2451.7 1720.2,2445.3 1712.8,2439.0 C1705.4,2432.7 1701.7,2423.8 1693.8,2416.9 C1685.9,2410.0 1670.6,2406.8 1665.3,2397.8 C1660.0,2388.8 1665.2,2372.5 1662.0,2363.0 C1658.8,2353.5 1653.7,2346.6 1646.3,2340.8 C1638.9,2335.0 1623.8,2331.7 1617.7,2328.0 C1611.6,2324.3 1607.7,2322.3 1609.8,2318.6Z" fill="#acd0ec" />
<clipPath id="cpd4"><path d="M1609.8,2318.6 C1611.9,2314.9 1623.8,2310.8 1630.4,2306.0 C1637.0,2301.2 1645.7,2300.6 1649.4,2290.0 C1653.1,2279.4 1652.6,2255.3 1652.6,2242.6 C1652.6,2229.9 1647.3,2220.3 1649.4,2214.0 C1651.5,2207.7 1656.9,2206.7 1665.3,2204.6 C1673.7,2202.5 1687.9,2201.9 1700.0,2201.4 C1712.1,2200.9 1729.5,2198.2 1738.0,2201.4 C1746.5,2204.6 1746.5,2213.0 1750.8,2220.4 C1755.0,2227.8 1757.7,2246.9 1763.5,2245.8 C1769.3,2244.7 1777.8,2221.9 1785.7,2214.0 C1793.6,2206.1 1798.9,2200.8 1811.0,2198.2 C1823.1,2195.6 1846.3,2198.7 1858.5,2198.2 C1870.7,2197.7 1879.4,2191.8 1883.9,2195.0 C1888.4,2198.2 1886.5,2209.8 1885.5,2217.2 C1884.5,2224.6 1873.6,2233.6 1877.6,2239.4 C1881.5,2245.2 1904.5,2247.2 1909.2,2252.0 C1913.9,2256.8 1910.2,2261.7 1906.0,2268.0 C1901.8,2274.3 1886.5,2284.2 1883.9,2290.0 C1881.3,2295.8 1886.5,2296.5 1890.2,2302.8 C1893.9,2309.1 1906.0,2321.7 1906.0,2328.0 C1906.0,2334.3 1894.9,2333.9 1890.2,2340.8 C1885.5,2347.7 1877.6,2360.3 1877.6,2369.3 C1877.6,2378.3 1890.2,2386.8 1890.2,2394.7 C1890.2,2402.6 1881.3,2406.9 1877.6,2416.9 C1873.9,2426.9 1872.2,2449.1 1868.0,2454.9 C1863.8,2460.7 1859.0,2453.3 1852.2,2451.7 C1845.4,2450.1 1833.2,2442.2 1826.9,2445.4 C1820.6,2448.6 1821.1,2467.0 1814.2,2470.7 C1807.3,2474.4 1791.0,2466.0 1785.7,2467.6 C1780.4,2469.2 1785.7,2479.1 1782.5,2480.2 C1779.3,2481.2 1769.9,2477.6 1766.7,2473.9 C1763.5,2470.2 1768.3,2461.2 1763.5,2458.0 C1758.7,2454.8 1746.5,2458.1 1738.0,2454.9 C1729.5,2451.7 1720.2,2445.3 1712.8,2439.0 C1705.4,2432.7 1701.7,2423.8 1693.8,2416.9 C1685.9,2410.0 1670.6,2406.8 1665.3,2397.8 C1660.0,2388.8 1665.2,2372.5 1662.0,2363.0 C1658.8,2353.5 1653.7,2346.6 1646.3,2340.8 C1638.9,2335.0 1623.8,2331.7 1617.7,2328.0 C1611.6,2324.3 1607.7,2322.3 1609.8,2318.6Z"/></clipPath>
<g clip-path="url(#cpd4)"><rect x="1600" y="2190" width="315" height="295" fill="#5a78d8" filter="url(#spk)" opacity="0.5"/>
<ellipse cx="1715" cy="2290" rx="45" ry="50" fill="url(#gwht)" opacity="0.85"/>
<ellipse cx="1736" cy="2386" rx="42" ry="40" fill="url(#gwht)" opacity="0.85"/>
<ellipse cx="1826" cy="2418" rx="36" ry="30" fill="url(#gwht)" opacity="0.8"/>
<ellipse cx="1845" cy="2290" rx="50" ry="60" fill="url(#gblu)" opacity="0.5"/>
<ellipse cx="1819" cy="2368" rx="14" ry="22" fill="url(#gpur)" opacity="0.9"/>
<ellipse cx="1700" cy="2440" rx="40" ry="20" fill="url(#gpur2)" opacity="0.35"/>
<ellipse cx="1650" cy="2320" rx="30" ry="20" fill="url(#glig)" opacity="0.6"/>
</g>
<rect x="2003.7" y="2289" width="17" height="102" fill="url(#gcb)"/>
<line x1="2003.7" y1="2317.5" x2="2006.7" y2="2317.5" stroke="#fff" stroke-width="1.2" />
<line x1="2017.7" y1="2317.5" x2="2020.7" y2="2317.5" stroke="#fff" stroke-width="1.2" />
<line x1="2003.7" y1="2346.5" x2="2006.7" y2="2346.5" stroke="#fff" stroke-width="1.2" />
<line x1="2017.7" y1="2346.5" x2="2020.7" y2="2346.5" stroke="#fff" stroke-width="1.2" />
<line x1="2003.7" y1="2376" x2="2006.7" y2="2376" stroke="#fff" stroke-width="1.2" />
<line x1="2017.7" y1="2376" x2="2020.7" y2="2376" stroke="#fff" stroke-width="1.2" />
<text x="2023.4" y="2300.8" font-size="26" fill="#000" font-weight="normal" text-anchor="start" >10</text>
<text x="2028.5" y="2350" font-size="26" fill="#000" font-weight="normal" text-anchor="start" >5</text>
<text x="2028.5" y="2401.3" font-size="26" fill="#000" font-weight="normal" text-anchor="start" >0</text>
</svg></body></html>
